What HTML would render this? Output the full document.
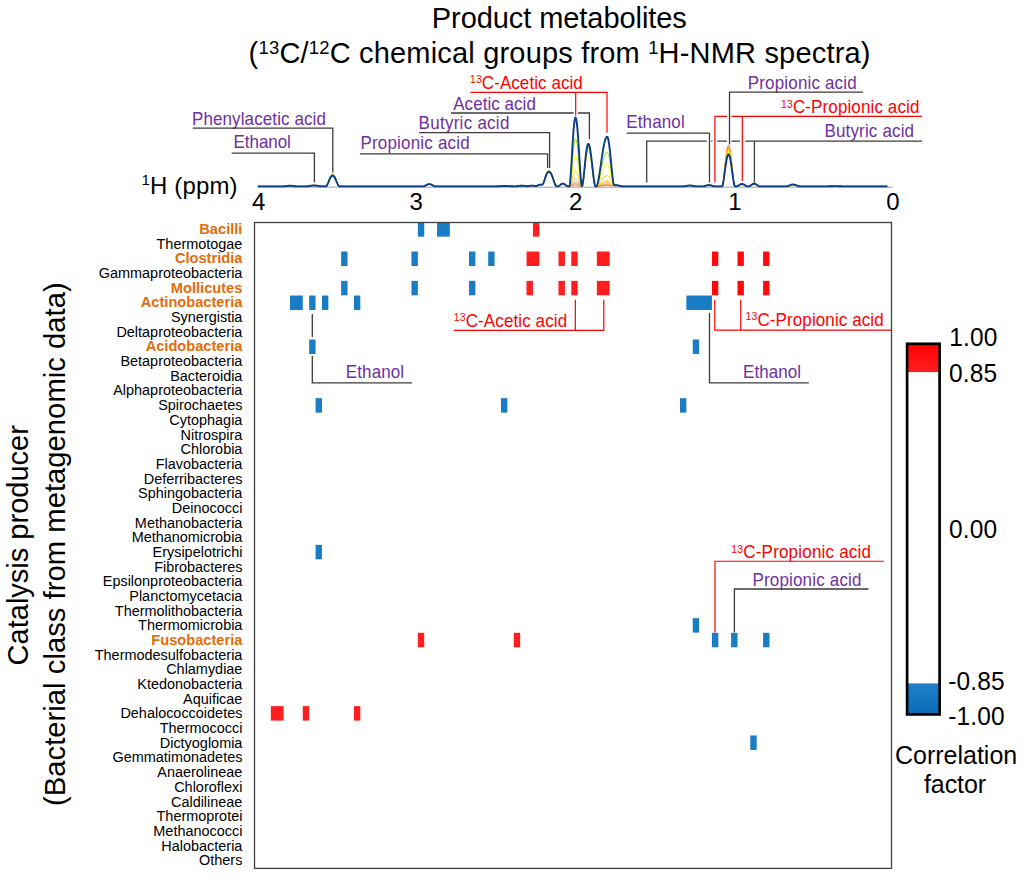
<!DOCTYPE html>
<html><head><meta charset="utf-8"><title>Product metabolites heatmap</title>
<style>html,body{margin:0;padding:0;background:#fff;width:1024px;height:885px;overflow:hidden;font-family:"Liberation Sans", sans-serif;}svg{display:block;}</style>
</head><body>
<svg width="1024" height="885" viewBox="0 0 1024 885" font-family='"Liberation Sans", sans-serif'><rect width="1024" height="885" fill="#fff"/><rect x="417.85" y="222.20" width="6.39" height="14.45" fill="#1a7cc4"/><rect x="437.03" y="222.20" width="12.79" height="14.45" fill="#1a7cc4"/><rect x="532.93" y="222.20" width="6.39" height="14.45" fill="#ff1e1e"/><rect x="341.14" y="251.53" width="6.39" height="14.45" fill="#1a7cc4"/><rect x="411.46" y="251.53" width="6.39" height="14.45" fill="#1a7cc4"/><rect x="469.00" y="251.53" width="6.39" height="14.45" fill="#1a7cc4"/><rect x="488.18" y="251.53" width="6.39" height="14.45" fill="#1a7cc4"/><rect x="526.54" y="251.53" width="12.79" height="14.45" fill="#ff1e1e"/><rect x="558.50" y="251.53" width="6.39" height="14.45" fill="#ff1e1e"/><rect x="571.29" y="251.53" width="6.39" height="14.45" fill="#ff1e1e"/><rect x="596.86" y="251.53" width="12.79" height="14.45" fill="#ff1e1e"/><rect x="711.93" y="251.53" width="6.39" height="14.45" fill="#ff0a0a"/><rect x="737.50" y="251.53" width="6.39" height="14.45" fill="#ff0a0a"/><rect x="763.08" y="251.53" width="6.39" height="14.45" fill="#ff0a0a"/><rect x="341.14" y="280.86" width="6.39" height="14.45" fill="#1a7cc4"/><rect x="411.46" y="280.86" width="6.39" height="14.45" fill="#1a7cc4"/><rect x="469.00" y="280.86" width="6.39" height="14.45" fill="#1a7cc4"/><rect x="526.54" y="280.86" width="6.39" height="14.45" fill="#ff1e1e"/><rect x="558.50" y="280.86" width="6.39" height="14.45" fill="#ff1e1e"/><rect x="571.29" y="280.86" width="6.39" height="14.45" fill="#ff1e1e"/><rect x="596.86" y="280.86" width="12.79" height="14.45" fill="#ff1e1e"/><rect x="711.93" y="280.86" width="6.39" height="14.45" fill="#ff0a0a"/><rect x="737.50" y="280.86" width="6.39" height="14.45" fill="#ff0a0a"/><rect x="763.08" y="280.86" width="6.39" height="14.45" fill="#ff0a0a"/><rect x="289.99" y="295.52" width="12.79" height="14.45" fill="#1a7cc4"/><rect x="309.17" y="295.52" width="6.39" height="14.45" fill="#1a7cc4"/><rect x="321.96" y="295.52" width="6.39" height="14.45" fill="#1a7cc4"/><rect x="353.92" y="295.52" width="6.39" height="14.45" fill="#1a7cc4"/><rect x="686.36" y="295.52" width="25.57" height="14.45" fill="#1a7cc4"/><rect x="309.17" y="339.52" width="6.39" height="14.45" fill="#1a7cc4"/><rect x="692.75" y="339.52" width="6.39" height="14.45" fill="#1a7cc4"/><rect x="315.57" y="398.18" width="6.39" height="14.45" fill="#1a7cc4"/><rect x="500.96" y="398.18" width="6.39" height="14.45" fill="#1a7cc4"/><rect x="679.97" y="398.18" width="6.39" height="14.45" fill="#1a7cc4"/><rect x="315.57" y="544.83" width="6.39" height="14.45" fill="#1a7cc4"/><rect x="692.75" y="618.15" width="6.39" height="14.45" fill="#1a7cc4"/><rect x="417.85" y="632.82" width="6.39" height="14.45" fill="#ff1e1e"/><rect x="513.75" y="632.82" width="6.39" height="14.45" fill="#ff1e1e"/><rect x="711.93" y="632.82" width="6.39" height="14.45" fill="#1a7cc4"/><rect x="731.11" y="632.82" width="6.39" height="14.45" fill="#1a7cc4"/><rect x="763.08" y="632.82" width="6.39" height="14.45" fill="#1a7cc4"/><rect x="270.82" y="706.14" width="12.79" height="14.45" fill="#ff1e1e"/><rect x="302.78" y="706.14" width="6.39" height="14.45" fill="#ff1e1e"/><rect x="353.92" y="706.14" width="6.39" height="14.45" fill="#ff1e1e"/><rect x="750.29" y="735.48" width="6.39" height="14.45" fill="#1a7cc4"/><rect x="254.5" y="222.5" width="637.00" height="645.90" fill="none" stroke="#404040" stroke-width="1.3"/><text transform="translate(242.4,234.00) scale(1,1.06)" text-anchor="end" font-size="14.65" font-weight="bold" fill="#e46c0a">Bacilli</text><text transform="translate(242.4,248.68) scale(1,1.06)" text-anchor="end" font-size="14.45" fill="#000">Thermotogae</text><text transform="translate(242.4,263.36) scale(1,1.06)" text-anchor="end" font-size="14.65" font-weight="bold" fill="#e46c0a">Clostridia</text><text transform="translate(242.4,278.04) scale(1,1.06)" text-anchor="end" font-size="14.45" fill="#000">Gammaproteobacteria</text><text transform="translate(242.4,292.72) scale(1,1.06)" text-anchor="end" font-size="14.65" font-weight="bold" fill="#e46c0a">Mollicutes</text><text transform="translate(242.4,307.40) scale(1,1.06)" text-anchor="end" font-size="14.65" font-weight="bold" fill="#e46c0a">Actinobacteria</text><text transform="translate(242.4,322.08) scale(1,1.06)" text-anchor="end" font-size="14.45" fill="#000">Synergistia</text><text transform="translate(242.4,336.76) scale(1,1.06)" text-anchor="end" font-size="14.45" fill="#000">Deltaproteobacteria</text><text transform="translate(242.4,351.44) scale(1,1.06)" text-anchor="end" font-size="14.65" font-weight="bold" fill="#e46c0a">Acidobacteria</text><text transform="translate(242.4,366.12) scale(1,1.06)" text-anchor="end" font-size="14.45" fill="#000">Betaproteobacteria</text><text transform="translate(242.4,380.80) scale(1,1.06)" text-anchor="end" font-size="14.45" fill="#000">Bacteroidia</text><text transform="translate(242.4,395.48) scale(1,1.06)" text-anchor="end" font-size="14.45" fill="#000">Alphaproteobacteria</text><text transform="translate(242.4,410.16) scale(1,1.06)" text-anchor="end" font-size="14.45" fill="#000">Spirochaetes</text><text transform="translate(242.4,424.84) scale(1,1.06)" text-anchor="end" font-size="14.45" fill="#000">Cytophagia</text><text transform="translate(242.4,439.52) scale(1,1.06)" text-anchor="end" font-size="14.45" fill="#000">Nitrospira</text><text transform="translate(242.4,454.20) scale(1,1.06)" text-anchor="end" font-size="14.45" fill="#000">Chlorobia</text><text transform="translate(242.4,468.88) scale(1,1.06)" text-anchor="end" font-size="14.45" fill="#000">Flavobacteria</text><text transform="translate(242.4,483.56) scale(1,1.06)" text-anchor="end" font-size="14.45" fill="#000">Deferribacteres</text><text transform="translate(242.4,498.24) scale(1,1.06)" text-anchor="end" font-size="14.45" fill="#000">Sphingobacteria</text><text transform="translate(242.4,512.92) scale(1,1.06)" text-anchor="end" font-size="14.45" fill="#000">Deinococci</text><text transform="translate(242.4,527.60) scale(1,1.06)" text-anchor="end" font-size="14.45" fill="#000">Methanobacteria</text><text transform="translate(242.4,542.28) scale(1,1.06)" text-anchor="end" font-size="14.45" fill="#000">Methanomicrobia</text><text transform="translate(242.4,556.96) scale(1,1.06)" text-anchor="end" font-size="14.45" fill="#000">Erysipelotrichi</text><text transform="translate(242.4,571.64) scale(1,1.06)" text-anchor="end" font-size="14.45" fill="#000">Fibrobacteres</text><text transform="translate(242.4,586.32) scale(1,1.06)" text-anchor="end" font-size="14.45" fill="#000">Epsilonproteobacteria</text><text transform="translate(242.4,601.00) scale(1,1.06)" text-anchor="end" font-size="14.45" fill="#000">Planctomycetacia</text><text transform="translate(242.4,615.68) scale(1,1.06)" text-anchor="end" font-size="14.45" fill="#000">Thermolithobacteria</text><text transform="translate(242.4,630.36) scale(1,1.06)" text-anchor="end" font-size="14.45" fill="#000">Thermomicrobia</text><text transform="translate(242.4,645.04) scale(1,1.06)" text-anchor="end" font-size="14.65" font-weight="bold" fill="#e46c0a">Fusobacteria</text><text transform="translate(242.4,659.72) scale(1,1.06)" text-anchor="end" font-size="14.45" fill="#000">Thermodesulfobacteria</text><text transform="translate(242.4,674.40) scale(1,1.06)" text-anchor="end" font-size="14.45" fill="#000">Chlamydiae</text><text transform="translate(242.4,689.08) scale(1,1.06)" text-anchor="end" font-size="14.45" fill="#000">Ktedonobacteria</text><text transform="translate(242.4,703.76) scale(1,1.06)" text-anchor="end" font-size="14.45" fill="#000">Aquificae</text><text transform="translate(242.4,718.44) scale(1,1.06)" text-anchor="end" font-size="14.45" fill="#000">Dehalococcoidetes</text><text transform="translate(242.4,733.12) scale(1,1.06)" text-anchor="end" font-size="14.45" fill="#000">Thermococci</text><text transform="translate(242.4,747.80) scale(1,1.06)" text-anchor="end" font-size="14.45" fill="#000">Dictyoglomia</text><text transform="translate(242.4,762.48) scale(1,1.06)" text-anchor="end" font-size="14.45" fill="#000">Gemmatimonadetes</text><text transform="translate(242.4,777.16) scale(1,1.06)" text-anchor="end" font-size="14.45" fill="#000">Anaerolineae</text><text transform="translate(242.4,791.84) scale(1,1.06)" text-anchor="end" font-size="14.45" fill="#000">Chloroflexi</text><text transform="translate(242.4,806.52) scale(1,1.06)" text-anchor="end" font-size="14.45" fill="#000">Caldilineae</text><text transform="translate(242.4,821.20) scale(1,1.06)" text-anchor="end" font-size="14.45" fill="#000">Thermoprotei</text><text transform="translate(242.4,835.88) scale(1,1.06)" text-anchor="end" font-size="14.45" fill="#000">Methanococci</text><text transform="translate(242.4,850.56) scale(1,1.06)" text-anchor="end" font-size="14.45" fill="#000">Halobacteria</text><text transform="translate(242.4,865.24) scale(1,1.06)" text-anchor="end" font-size="14.45" fill="#000">Others</text><line x1="258" y1="187.2" x2="892.8" y2="187.2" stroke="#c0c0c0" stroke-width="1.5"/><path d="M257.9,186.4 L283.4,186.4 L283.9,186.4 L284.4,186.3 L284.9,186.2 L285.4,186.2 L285.9,186.1 L286.4,186.0 L286.9,186.0 L287.4,185.9 L287.9,185.8 L288.4,185.8 L288.9,185.7 L289.4,185.7 L289.9,185.7 L290.4,185.7 L290.9,185.7 L291.4,185.8 L291.9,185.8 L292.4,185.9 L292.9,185.9 L293.4,186.0 L293.9,186.1 L294.4,186.1 L294.9,186.2 L295.4,186.3 L295.9,186.3 L296.4,186.4 L296.9,186.4 L306.4,186.4 L306.9,186.4 L307.4,186.3 L307.9,186.2 L308.4,186.1 L308.9,186.0 L309.4,185.9 L309.9,185.8 L310.4,185.7 L310.9,185.7 L311.4,185.6 L311.9,185.5 L312.4,185.5 L312.9,185.4 L313.4,185.4 L313.9,185.4 L314.4,185.4 L314.9,185.4 L315.4,185.4 L315.9,185.5 L316.4,185.6 L316.9,185.6 L317.4,185.7 L317.9,185.8 L318.4,185.9 L318.9,186.0 L319.4,186.1 L319.9,186.2 L320.4,186.3 L320.9,186.3 L321.4,186.4 L321.9,186.4 L325.4,186.4 L325.9,186.4 L326.4,186.0 L326.9,185.3 L327.4,184.3 L327.9,183.0 L328.4,181.7 L328.9,180.3 L329.4,178.9 L329.9,177.7 L330.4,176.5 L330.9,175.6 L331.4,174.8 L331.9,174.3 L332.4,174.1 L332.9,174.1 L333.4,174.4 L333.9,175.0 L334.4,175.8 L334.9,176.7 L335.4,177.9 L335.9,179.2 L336.4,180.6 L336.9,182.0 L337.4,183.3 L337.9,184.5 L338.4,185.5 L338.9,186.2 L339.4,186.4 L423.4,186.4 L423.9,186.3 L424.4,186.2 L424.9,185.9 L425.4,185.7 L425.9,185.4 L426.4,185.1 L426.9,184.8 L427.4,184.6 L427.9,184.4 L428.4,184.3 L428.9,184.2 L429.4,184.2 L429.9,184.2 L430.4,184.3 L430.9,184.5 L431.4,184.7 L431.9,184.9 L432.4,185.2 L432.9,185.5 L433.4,185.8 L433.9,186.0 L434.4,186.2 L434.9,186.4 L435.4,186.4 L495.4,186.4 L495.9,186.4 L496.4,186.4 L496.9,186.4 L497.4,186.3 L497.9,186.3 L498.4,186.3 L498.9,186.2 L499.4,186.2 L499.9,186.2 L500.4,186.2 L500.9,186.1 L501.4,186.1 L501.9,186.1 L502.4,186.1 L502.9,186.0 L503.4,186.0 L503.9,186.0 L504.4,186.0 L504.9,186.0 L505.4,186.0 L505.9,186.0 L506.4,186.0 L506.9,186.0 L507.4,186.1 L507.9,186.1 L508.4,186.1 L508.9,186.1 L509.4,186.1 L509.9,186.2 L510.4,186.2 L510.9,186.2 L511.4,186.3 L511.9,186.3 L512.4,186.3 L512.9,186.3 L513.4,186.4 L513.9,186.4 L514.4,186.4 L515.4,186.4 L515.9,186.4 L516.4,186.3 L516.9,186.3 L517.4,186.2 L517.9,186.1 L518.4,186.0 L518.9,186.0 L519.4,185.9 L519.9,185.8 L520.4,185.8 L520.9,185.8 L521.4,185.7 L521.9,185.7 L522.4,185.7 L522.9,185.7 L523.4,185.8 L523.9,185.8 L524.4,185.9 L524.9,185.9 L525.4,186.0 L525.9,186.1 L526.4,186.1 L526.9,186.2 L527.4,186.2 L527.9,186.1 L528.4,186.1 L528.9,186.0 L529.4,185.9 L529.9,185.8 L530.4,185.7 L530.9,185.7 L531.4,185.6 L531.9,185.6 L532.4,185.6 L532.9,185.7 L533.4,185.7 L533.9,185.8 L534.4,185.9 L534.9,185.9 L535.4,186.0 L535.9,186.1 L536.4,186.0 L536.9,185.9 L537.4,185.7 L537.9,185.5 L538.4,185.2 L538.9,185.0 L539.4,184.8 L539.9,184.7 L540.4,184.7 L540.9,184.7 L541.4,184.7 L541.9,184.6 L542.4,184.5 L542.9,184.0 L543.4,183.0 L543.9,181.7 L544.4,180.2 L544.9,178.6 L545.4,176.9 L545.9,175.3 L546.4,173.8 L546.9,172.6 L547.4,171.7 L547.9,171.1 L548.4,170.7 L548.9,170.7 L549.4,170.8 L549.9,171.2 L550.4,171.6 L550.9,172.4 L551.4,173.4 L551.9,174.6 L552.4,176.0 L552.9,177.6 L553.4,179.2 L553.9,180.8 L554.4,182.4 L554.9,183.8 L555.4,185.0 L555.9,185.9 L556.4,186.4 L556.9,186.4 L557.9,186.4 L558.4,186.3 L558.9,186.0 L559.4,185.7 L559.9,185.3 L560.4,184.9 L560.9,184.5 L561.4,184.2 L561.9,183.9 L562.4,183.7 L562.9,183.7 L563.4,183.7 L563.9,183.9 L564.4,184.2 L564.9,184.5 L565.4,184.9 L565.9,185.3 L566.4,185.7 L566.9,186.0 L567.4,186.3 L567.9,186.4 L569.4,186.4 L569.9,186.4 L570.4,186.3 L570.9,186.1 L571.4,186.0 L571.9,185.8 L572.4,185.6 L572.9,185.5 L573.4,185.3 L573.9,185.2 L574.4,185.1 L574.9,185.0 L575.4,185.0 L575.9,185.0 L576.4,185.1 L576.9,185.1 L577.4,185.2 L577.9,185.4 L578.4,185.5 L578.9,185.7 L579.4,185.8 L579.9,186.0 L580.4,186.1 L580.9,186.3 L581.4,186.4 L581.9,186.4 L582.4,185.5 L582.9,183.2 L583.4,179.8 L583.9,175.7 L584.4,171.2 L584.9,166.6 L585.4,162.1 L585.9,158.0 L586.4,154.4 L586.9,151.6 L587.4,149.5 L587.9,148.3 L588.4,148.0 L588.9,148.5 L589.4,149.7 L589.9,151.7 L590.4,154.2 L590.9,157.3 L591.4,160.9 L591.9,164.8 L592.4,168.9 L592.9,172.9 L593.4,176.9 L593.9,180.4 L594.4,183.3 L594.9,185.4 L595.4,186.4 L595.9,186.4 L596.4,186.4 L596.9,186.4 L597.4,186.4 L597.9,186.3 L598.4,186.3 L598.9,186.2 L599.4,186.2 L599.9,186.1 L600.4,186.0 L600.9,186.0 L601.4,185.9 L601.9,185.8 L602.4,185.7 L602.9,185.7 L603.4,185.6 L603.9,185.6 L604.4,185.5 L604.9,185.5 L605.4,185.5 L605.9,185.4 L606.4,185.4 L606.9,185.4 L607.4,185.4 L607.9,185.4 L608.4,185.5 L608.9,185.5 L609.4,185.6 L609.9,185.7 L610.4,185.8 L610.9,185.8 L611.4,185.8 L611.9,185.8 L612.4,185.7 L612.9,185.7 L613.4,185.6 L613.9,185.5 L614.4,185.4 L614.9,185.3 L615.4,185.3 L615.9,185.2 L616.4,185.2 L616.9,185.3 L617.4,185.3 L617.9,185.4 L618.4,185.5 L618.9,185.6 L619.4,185.7 L619.9,185.8 L620.4,186.0 L620.9,186.1 L621.4,186.2 L621.9,186.3 L622.4,186.4 L622.9,186.4 L683.9,186.4 L684.4,186.4 L684.9,186.3 L685.4,186.3 L685.9,186.2 L686.4,186.0 L686.9,185.9 L687.4,185.8 L687.9,185.7 L688.4,185.6 L688.9,185.6 L689.4,185.5 L689.9,185.5 L690.4,185.5 L690.9,185.6 L691.4,185.6 L691.9,185.7 L692.4,185.8 L692.9,185.9 L693.4,186.0 L693.9,186.1 L694.4,186.2 L694.9,186.3 L695.4,186.4 L695.9,186.4 L702.9,186.4 L703.4,186.4 L703.9,186.3 L704.4,186.2 L704.9,186.0 L705.4,185.9 L705.9,185.7 L706.4,185.6 L706.9,185.4 L707.4,185.3 L707.9,185.2 L708.4,185.2 L708.9,185.1 L709.4,185.2 L709.9,185.2 L710.4,185.3 L710.9,185.4 L711.4,185.5 L711.9,185.7 L712.4,185.8 L712.9,186.0 L713.4,186.1 L713.9,186.3 L714.4,186.4 L714.9,186.4 L721.9,186.4 L722.4,185.8 L722.9,183.7 L723.4,180.3 L723.9,176.2 L724.4,171.5 L724.9,166.7 L725.4,162.0 L725.9,157.5 L726.4,153.5 L726.9,150.3 L727.4,147.8 L727.9,146.1 L728.4,145.5 L728.9,145.7 L729.4,147.0 L729.9,149.2 L730.4,152.1 L730.9,155.8 L731.4,160.1 L731.9,164.8 L732.4,169.6 L732.9,174.4 L733.4,178.8 L733.9,182.5 L734.4,185.1 L734.9,186.4 L735.4,186.4 L736.4,186.4 L736.9,186.4 L737.4,186.2 L737.9,185.9 L738.4,185.6 L738.9,185.3 L739.4,185.0 L739.9,184.7 L740.4,184.4 L740.9,184.3 L741.4,184.1 L741.9,184.1 L742.4,184.1 L742.9,184.2 L743.4,184.4 L743.9,184.6 L744.4,184.9 L744.9,185.2 L745.4,185.5 L745.9,185.8 L746.4,186.1 L746.9,186.3 L747.4,186.4 L748.4,186.4 L748.9,186.4 L749.4,186.3 L749.9,186.0 L750.4,185.7 L750.9,185.3 L751.4,185.0 L751.9,184.6 L752.4,184.3 L752.9,184.1 L753.4,183.9 L753.9,183.8 L754.4,183.8 L754.9,183.9 L755.4,184.0 L755.9,184.3 L756.4,184.6 L756.9,184.9 L757.4,185.3 L757.9,185.6 L758.4,185.9 L758.9,186.2 L759.4,186.4 L759.9,186.4 L786.4,186.4 L786.9,186.4 L787.4,186.3 L787.9,186.1 L788.4,185.9 L788.9,185.7 L789.4,185.5 L789.9,185.3 L790.4,185.1 L790.9,184.9 L791.4,184.8 L791.9,184.7 L792.4,184.6 L792.9,184.6 L793.4,184.6 L793.9,184.6 L794.4,184.7 L794.9,184.9 L795.4,185.0 L795.9,185.2 L796.4,185.4 L796.9,185.6 L797.4,185.9 L797.9,186.1 L798.4,186.2 L798.9,186.3 L799.4,186.4 L826.4,186.4 L826.9,186.4 L827.4,186.4 L827.9,186.4 L828.4,186.3 L828.9,186.3 L829.4,186.3 L829.9,186.3 L830.4,186.2 L830.9,186.2 L831.4,186.2 L831.9,186.2 L832.4,186.2 L832.9,186.1 L833.4,186.1 L833.9,186.1 L834.4,186.1 L834.9,186.1 L835.4,186.1 L835.9,186.1 L836.4,186.1 L836.9,186.1 L837.4,186.1 L837.9,186.2 L838.4,186.2 L838.9,186.2 L839.4,186.2 L839.9,186.3 L840.4,186.3 L840.9,186.3 L841.4,186.3 L841.9,186.4 L842.4,186.4 L842.9,186.4 L843.4,186.4 L887.4,186.4" fill="none" stroke="#ff5a10" stroke-width="1.0"/><path d="M257.9,186.4 L283.4,186.4 L283.9,186.4 L284.4,186.3 L284.9,186.2 L285.4,186.2 L285.9,186.1 L286.4,186.0 L286.9,186.0 L287.4,185.9 L287.9,185.8 L288.4,185.8 L288.9,185.7 L289.4,185.7 L289.9,185.7 L290.4,185.7 L290.9,185.7 L291.4,185.8 L291.9,185.8 L292.4,185.9 L292.9,185.9 L293.4,186.0 L293.9,186.1 L294.4,186.1 L294.9,186.2 L295.4,186.3 L295.9,186.3 L296.4,186.4 L296.9,186.4 L306.4,186.4 L306.9,186.4 L307.4,186.3 L307.9,186.2 L308.4,186.1 L308.9,186.0 L309.4,185.9 L309.9,185.8 L310.4,185.7 L310.9,185.7 L311.4,185.6 L311.9,185.5 L312.4,185.5 L312.9,185.4 L313.4,185.4 L313.9,185.4 L314.4,185.4 L314.9,185.4 L315.4,185.4 L315.9,185.5 L316.4,185.6 L316.9,185.6 L317.4,185.7 L317.9,185.8 L318.4,185.9 L318.9,186.0 L319.4,186.1 L319.9,186.2 L320.4,186.3 L320.9,186.3 L321.4,186.4 L321.9,186.4 L325.4,186.4 L325.9,186.4 L326.4,186.0 L326.9,185.3 L327.4,184.3 L327.9,183.0 L328.4,181.7 L328.9,180.3 L329.4,178.9 L329.9,177.7 L330.4,176.5 L330.9,175.6 L331.4,174.8 L331.9,174.3 L332.4,174.1 L332.9,174.1 L333.4,174.4 L333.9,175.0 L334.4,175.8 L334.9,176.7 L335.4,177.9 L335.9,179.2 L336.4,180.6 L336.9,182.0 L337.4,183.3 L337.9,184.5 L338.4,185.5 L338.9,186.2 L339.4,186.4 L423.4,186.4 L423.9,186.3 L424.4,186.2 L424.9,185.9 L425.4,185.7 L425.9,185.4 L426.4,185.1 L426.9,184.8 L427.4,184.6 L427.9,184.4 L428.4,184.3 L428.9,184.2 L429.4,184.2 L429.9,184.2 L430.4,184.3 L430.9,184.5 L431.4,184.7 L431.9,184.9 L432.4,185.2 L432.9,185.5 L433.4,185.8 L433.9,186.0 L434.4,186.2 L434.9,186.4 L435.4,186.4 L495.4,186.4 L495.9,186.4 L496.4,186.4 L496.9,186.4 L497.4,186.3 L497.9,186.3 L498.4,186.3 L498.9,186.2 L499.4,186.2 L499.9,186.2 L500.4,186.2 L500.9,186.1 L501.4,186.1 L501.9,186.1 L502.4,186.1 L502.9,186.0 L503.4,186.0 L503.9,186.0 L504.4,186.0 L504.9,186.0 L505.4,186.0 L505.9,186.0 L506.4,186.0 L506.9,186.0 L507.4,186.1 L507.9,186.1 L508.4,186.1 L508.9,186.1 L509.4,186.1 L509.9,186.2 L510.4,186.2 L510.9,186.2 L511.4,186.3 L511.9,186.3 L512.4,186.3 L512.9,186.3 L513.4,186.4 L513.9,186.4 L514.4,186.4 L515.4,186.4 L515.9,186.4 L516.4,186.3 L516.9,186.3 L517.4,186.2 L517.9,186.1 L518.4,186.0 L518.9,186.0 L519.4,185.9 L519.9,185.8 L520.4,185.8 L520.9,185.8 L521.4,185.7 L521.9,185.7 L522.4,185.7 L522.9,185.7 L523.4,185.8 L523.9,185.8 L524.4,185.9 L524.9,185.9 L525.4,186.0 L525.9,186.1 L526.4,186.1 L526.9,186.2 L527.4,186.2 L527.9,186.1 L528.4,186.1 L528.9,186.0 L529.4,185.9 L529.9,185.8 L530.4,185.7 L530.9,185.7 L531.4,185.6 L531.9,185.6 L532.4,185.6 L532.9,185.7 L533.4,185.7 L533.9,185.8 L534.4,185.9 L534.9,185.9 L535.4,186.0 L535.9,186.1 L536.4,186.0 L536.9,185.9 L537.4,185.7 L537.9,185.5 L538.4,185.2 L538.9,185.0 L539.4,184.8 L539.9,184.7 L540.4,184.7 L540.9,184.7 L541.4,184.7 L541.9,184.6 L542.4,184.5 L542.9,184.0 L543.4,183.0 L543.9,181.7 L544.4,180.2 L544.9,178.6 L545.4,176.9 L545.9,175.3 L546.4,173.8 L546.9,172.6 L547.4,171.7 L547.9,171.1 L548.4,170.7 L548.9,170.7 L549.4,170.8 L549.9,171.2 L550.4,171.6 L550.9,172.4 L551.4,173.4 L551.9,174.6 L552.4,176.0 L552.9,177.6 L553.4,179.2 L553.9,180.8 L554.4,182.4 L554.9,183.8 L555.4,185.0 L555.9,185.9 L556.4,186.4 L556.9,186.4 L557.9,186.4 L558.4,186.3 L558.9,186.0 L559.4,185.7 L559.9,185.3 L560.4,184.9 L560.9,184.5 L561.4,184.2 L561.9,183.9 L562.4,183.7 L562.9,183.7 L563.4,183.7 L563.9,183.9 L564.4,184.2 L564.9,184.5 L565.4,184.9 L565.9,185.3 L566.4,185.7 L566.9,186.0 L567.4,186.3 L567.9,186.4 L569.4,186.4 L569.9,186.3 L570.4,186.1 L570.9,185.8 L571.4,185.5 L571.9,185.2 L572.4,184.8 L572.9,184.5 L573.4,184.2 L573.9,183.9 L574.4,183.7 L574.9,183.6 L575.4,183.6 L575.9,183.6 L576.4,183.7 L576.9,183.8 L577.4,184.0 L577.9,184.3 L578.4,184.6 L578.9,184.9 L579.4,185.2 L579.9,185.6 L580.4,185.9 L580.9,186.1 L581.4,186.3 L581.9,186.4 L582.4,185.5 L582.9,183.2 L583.4,179.8 L583.9,175.7 L584.4,171.2 L584.9,166.6 L585.4,162.1 L585.9,158.0 L586.4,154.4 L586.9,151.6 L587.4,149.5 L587.9,148.3 L588.4,148.0 L588.9,148.5 L589.4,149.7 L589.9,151.7 L590.4,154.2 L590.9,157.3 L591.4,160.9 L591.9,164.8 L592.4,168.9 L592.9,172.9 L593.4,176.9 L593.9,180.4 L594.4,183.3 L594.9,185.4 L595.4,186.4 L595.9,186.4 L596.4,186.4 L596.9,186.4 L597.4,186.3 L597.9,186.2 L598.4,186.1 L598.9,186.0 L599.4,185.9 L599.9,185.8 L600.4,185.6 L600.9,185.5 L601.4,185.3 L601.9,185.2 L602.4,185.1 L602.9,184.9 L603.4,184.8 L603.9,184.7 L604.4,184.6 L604.9,184.5 L605.4,184.5 L605.9,184.4 L606.4,184.4 L606.9,184.4 L607.4,184.4 L607.9,184.4 L608.4,184.5 L608.9,184.6 L609.4,184.8 L609.9,184.9 L610.4,185.1 L610.9,185.3 L611.4,185.4 L611.9,185.4 L612.4,185.5 L612.9,185.5 L613.4,185.5 L613.9,185.5 L614.4,185.4 L614.9,185.3 L615.4,185.3 L615.9,185.2 L616.4,185.2 L616.9,185.3 L617.4,185.3 L617.9,185.4 L618.4,185.5 L618.9,185.6 L619.4,185.7 L619.9,185.8 L620.4,186.0 L620.9,186.1 L621.4,186.2 L621.9,186.3 L622.4,186.4 L622.9,186.4 L683.9,186.4 L684.4,186.4 L684.9,186.3 L685.4,186.3 L685.9,186.2 L686.4,186.0 L686.9,185.9 L687.4,185.8 L687.9,185.7 L688.4,185.6 L688.9,185.6 L689.4,185.5 L689.9,185.5 L690.4,185.5 L690.9,185.6 L691.4,185.6 L691.9,185.7 L692.4,185.8 L692.9,185.9 L693.4,186.0 L693.9,186.1 L694.4,186.2 L694.9,186.3 L695.4,186.4 L695.9,186.4 L702.9,186.4 L703.4,186.4 L703.9,186.3 L704.4,186.2 L704.9,186.0 L705.4,185.9 L705.9,185.7 L706.4,185.6 L706.9,185.4 L707.4,185.3 L707.9,185.2 L708.4,185.2 L708.9,185.1 L709.4,185.2 L709.9,185.2 L710.4,185.3 L710.9,185.4 L711.4,185.5 L711.9,185.7 L712.4,185.8 L712.9,186.0 L713.4,186.1 L713.9,186.3 L714.4,186.4 L714.9,186.4 L721.9,186.4 L722.4,185.8 L722.9,183.8 L723.4,180.5 L723.9,176.5 L724.4,172.0 L724.9,167.3 L725.4,162.7 L725.9,158.4 L726.4,154.6 L726.9,151.4 L727.4,149.0 L727.9,147.4 L728.4,146.7 L728.9,147.0 L729.4,148.2 L729.9,150.3 L730.4,153.2 L730.9,156.8 L731.4,160.9 L731.9,165.5 L732.4,170.1 L732.9,174.8 L733.4,179.0 L733.9,182.6 L734.4,185.2 L734.9,186.4 L735.4,186.4 L736.4,186.4 L736.9,186.4 L737.4,186.2 L737.9,185.9 L738.4,185.6 L738.9,185.3 L739.4,185.0 L739.9,184.7 L740.4,184.4 L740.9,184.3 L741.4,184.1 L741.9,184.1 L742.4,184.1 L742.9,184.2 L743.4,184.4 L743.9,184.6 L744.4,184.9 L744.9,185.2 L745.4,185.5 L745.9,185.8 L746.4,186.1 L746.9,186.3 L747.4,186.4 L748.4,186.4 L748.9,186.4 L749.4,186.3 L749.9,186.0 L750.4,185.7 L750.9,185.3 L751.4,185.0 L751.9,184.6 L752.4,184.3 L752.9,184.1 L753.4,183.9 L753.9,183.8 L754.4,183.8 L754.9,183.9 L755.4,184.0 L755.9,184.3 L756.4,184.6 L756.9,184.9 L757.4,185.3 L757.9,185.6 L758.4,185.9 L758.9,186.2 L759.4,186.4 L759.9,186.4 L786.4,186.4 L786.9,186.4 L787.4,186.3 L787.9,186.1 L788.4,185.9 L788.9,185.7 L789.4,185.5 L789.9,185.3 L790.4,185.1 L790.9,184.9 L791.4,184.8 L791.9,184.7 L792.4,184.6 L792.9,184.6 L793.4,184.6 L793.9,184.6 L794.4,184.7 L794.9,184.9 L795.4,185.0 L795.9,185.2 L796.4,185.4 L796.9,185.6 L797.4,185.9 L797.9,186.1 L798.4,186.2 L798.9,186.3 L799.4,186.4 L826.4,186.4 L826.9,186.4 L827.4,186.4 L827.9,186.4 L828.4,186.3 L828.9,186.3 L829.4,186.3 L829.9,186.3 L830.4,186.2 L830.9,186.2 L831.4,186.2 L831.9,186.2 L832.4,186.2 L832.9,186.1 L833.4,186.1 L833.9,186.1 L834.4,186.1 L834.9,186.1 L835.4,186.1 L835.9,186.1 L836.4,186.1 L836.9,186.1 L837.4,186.1 L837.9,186.2 L838.4,186.2 L838.9,186.2 L839.4,186.2 L839.9,186.3 L840.4,186.3 L840.9,186.3 L841.4,186.3 L841.9,186.4 L842.4,186.4 L842.9,186.4 L843.4,186.4 L887.4,186.4" fill="none" stroke="#ff8020" stroke-width="1.0"/><path d="M257.9,186.4 L283.4,186.4 L283.9,186.4 L284.4,186.3 L284.9,186.2 L285.4,186.2 L285.9,186.1 L286.4,186.0 L286.9,186.0 L287.4,185.9 L287.9,185.8 L288.4,185.8 L288.9,185.7 L289.4,185.7 L289.9,185.7 L290.4,185.7 L290.9,185.7 L291.4,185.8 L291.9,185.8 L292.4,185.9 L292.9,185.9 L293.4,186.0 L293.9,186.1 L294.4,186.1 L294.9,186.2 L295.4,186.3 L295.9,186.3 L296.4,186.4 L296.9,186.4 L306.4,186.4 L306.9,186.4 L307.4,186.3 L307.9,186.2 L308.4,186.1 L308.9,186.0 L309.4,185.9 L309.9,185.8 L310.4,185.7 L310.9,185.7 L311.4,185.6 L311.9,185.5 L312.4,185.5 L312.9,185.4 L313.4,185.4 L313.9,185.4 L314.4,185.4 L314.9,185.4 L315.4,185.4 L315.9,185.5 L316.4,185.6 L316.9,185.6 L317.4,185.7 L317.9,185.8 L318.4,185.9 L318.9,186.0 L319.4,186.1 L319.9,186.2 L320.4,186.3 L320.9,186.3 L321.4,186.4 L321.9,186.4 L325.4,186.4 L325.9,186.4 L326.4,186.0 L326.9,185.3 L327.4,184.3 L327.9,183.0 L328.4,181.7 L328.9,180.3 L329.4,178.9 L329.9,177.7 L330.4,176.5 L330.9,175.6 L331.4,174.8 L331.9,174.3 L332.4,174.1 L332.9,174.1 L333.4,174.4 L333.9,175.0 L334.4,175.8 L334.9,176.7 L335.4,177.9 L335.9,179.2 L336.4,180.6 L336.9,182.0 L337.4,183.3 L337.9,184.5 L338.4,185.5 L338.9,186.2 L339.4,186.4 L423.4,186.4 L423.9,186.3 L424.4,186.2 L424.9,185.9 L425.4,185.7 L425.9,185.4 L426.4,185.1 L426.9,184.8 L427.4,184.6 L427.9,184.4 L428.4,184.3 L428.9,184.2 L429.4,184.2 L429.9,184.2 L430.4,184.3 L430.9,184.5 L431.4,184.7 L431.9,184.9 L432.4,185.2 L432.9,185.5 L433.4,185.8 L433.9,186.0 L434.4,186.2 L434.9,186.4 L435.4,186.4 L495.4,186.4 L495.9,186.4 L496.4,186.4 L496.9,186.4 L497.4,186.3 L497.9,186.3 L498.4,186.3 L498.9,186.2 L499.4,186.2 L499.9,186.2 L500.4,186.2 L500.9,186.1 L501.4,186.1 L501.9,186.1 L502.4,186.1 L502.9,186.0 L503.4,186.0 L503.9,186.0 L504.4,186.0 L504.9,186.0 L505.4,186.0 L505.9,186.0 L506.4,186.0 L506.9,186.0 L507.4,186.1 L507.9,186.1 L508.4,186.1 L508.9,186.1 L509.4,186.1 L509.9,186.2 L510.4,186.2 L510.9,186.2 L511.4,186.3 L511.9,186.3 L512.4,186.3 L512.9,186.3 L513.4,186.4 L513.9,186.4 L514.4,186.4 L515.4,186.4 L515.9,186.4 L516.4,186.3 L516.9,186.3 L517.4,186.2 L517.9,186.1 L518.4,186.0 L518.9,186.0 L519.4,185.9 L519.9,185.8 L520.4,185.8 L520.9,185.8 L521.4,185.7 L521.9,185.7 L522.4,185.7 L522.9,185.7 L523.4,185.8 L523.9,185.8 L524.4,185.9 L524.9,185.9 L525.4,186.0 L525.9,186.1 L526.4,186.1 L526.9,186.2 L527.4,186.2 L527.9,186.1 L528.4,186.1 L528.9,186.0 L529.4,185.9 L529.9,185.8 L530.4,185.7 L530.9,185.7 L531.4,185.6 L531.9,185.6 L532.4,185.6 L532.9,185.7 L533.4,185.7 L533.9,185.8 L534.4,185.9 L534.9,185.9 L535.4,186.0 L535.9,186.1 L536.4,186.0 L536.9,185.9 L537.4,185.7 L537.9,185.5 L538.4,185.2 L538.9,185.0 L539.4,184.8 L539.9,184.7 L540.4,184.7 L540.9,184.7 L541.4,184.7 L541.9,184.6 L542.4,184.5 L542.9,184.0 L543.4,183.0 L543.9,181.7 L544.4,180.2 L544.9,178.6 L545.4,176.9 L545.9,175.3 L546.4,173.8 L546.9,172.6 L547.4,171.7 L547.9,171.1 L548.4,170.7 L548.9,170.7 L549.4,170.8 L549.9,171.2 L550.4,171.6 L550.9,172.4 L551.4,173.4 L551.9,174.6 L552.4,176.0 L552.9,177.6 L553.4,179.2 L553.9,180.8 L554.4,182.4 L554.9,183.8 L555.4,185.0 L555.9,185.9 L556.4,186.4 L556.9,186.4 L557.9,186.4 L558.4,186.3 L558.9,186.0 L559.4,185.7 L559.9,185.3 L560.4,184.9 L560.9,184.5 L561.4,184.2 L561.9,183.9 L562.4,183.7 L562.9,183.7 L563.4,183.7 L563.9,183.9 L564.4,184.2 L564.9,184.5 L565.4,184.9 L565.9,185.3 L566.4,185.7 L566.9,186.0 L567.4,186.3 L567.9,186.4 L569.4,186.4 L569.9,186.2 L570.4,185.9 L570.9,185.4 L571.4,184.8 L571.9,184.2 L572.4,183.5 L572.9,182.9 L573.4,182.4 L573.9,182.0 L574.4,181.6 L574.9,181.4 L575.4,181.3 L575.9,181.3 L576.4,181.5 L576.9,181.8 L577.4,182.1 L577.9,182.6 L578.4,183.1 L578.9,183.7 L579.4,184.3 L579.9,184.9 L580.4,185.4 L580.9,185.9 L581.4,186.2 L581.9,186.4 L582.4,185.5 L582.9,183.2 L583.4,179.8 L583.9,175.7 L584.4,171.2 L584.9,166.6 L585.4,162.1 L585.9,158.0 L586.4,154.4 L586.9,151.6 L587.4,149.5 L587.9,148.3 L588.4,148.0 L588.9,148.5 L589.4,149.7 L589.9,151.7 L590.4,154.2 L590.9,157.3 L591.4,160.9 L591.9,164.8 L592.4,168.9 L592.9,172.9 L593.4,176.9 L593.9,180.4 L594.4,183.3 L594.9,185.4 L595.4,186.4 L595.9,186.4 L596.4,186.4 L596.9,186.4 L597.4,186.3 L597.9,186.1 L598.4,185.9 L598.9,185.7 L599.4,185.5 L599.9,185.3 L600.4,185.0 L600.9,184.8 L601.4,184.5 L601.9,184.2 L602.4,184.0 L602.9,183.8 L603.4,183.5 L603.9,183.3 L604.4,183.2 L604.9,183.0 L605.4,182.9 L605.9,182.8 L606.4,182.8 L606.9,182.7 L607.4,182.7 L607.9,182.8 L608.4,183.0 L608.9,183.2 L609.4,183.4 L609.9,183.8 L610.4,184.1 L610.9,184.4 L611.4,184.7 L611.9,184.9 L612.4,185.2 L612.9,185.3 L613.4,185.4 L613.9,185.5 L614.4,185.4 L614.9,185.3 L615.4,185.3 L615.9,185.2 L616.4,185.2 L616.9,185.3 L617.4,185.3 L617.9,185.4 L618.4,185.5 L618.9,185.6 L619.4,185.7 L619.9,185.8 L620.4,186.0 L620.9,186.1 L621.4,186.2 L621.9,186.3 L622.4,186.4 L622.9,186.4 L683.9,186.4 L684.4,186.4 L684.9,186.3 L685.4,186.3 L685.9,186.2 L686.4,186.0 L686.9,185.9 L687.4,185.8 L687.9,185.7 L688.4,185.6 L688.9,185.6 L689.4,185.5 L689.9,185.5 L690.4,185.5 L690.9,185.6 L691.4,185.6 L691.9,185.7 L692.4,185.8 L692.9,185.9 L693.4,186.0 L693.9,186.1 L694.4,186.2 L694.9,186.3 L695.4,186.4 L695.9,186.4 L702.9,186.4 L703.4,186.4 L703.9,186.3 L704.4,186.2 L704.9,186.0 L705.4,185.9 L705.9,185.7 L706.4,185.6 L706.9,185.4 L707.4,185.3 L707.9,185.2 L708.4,185.2 L708.9,185.1 L709.4,185.2 L709.9,185.2 L710.4,185.3 L710.9,185.4 L711.4,185.5 L711.9,185.7 L712.4,185.8 L712.9,186.0 L713.4,186.1 L713.9,186.3 L714.4,186.4 L714.9,186.4 L721.9,186.4 L722.4,185.9 L722.9,183.8 L723.4,180.7 L723.9,176.8 L724.4,172.5 L724.9,167.9 L725.4,163.5 L725.9,159.3 L726.4,155.6 L726.9,152.5 L727.4,150.2 L727.9,148.7 L728.4,148.0 L728.9,148.3 L729.4,149.5 L729.9,151.5 L730.4,154.3 L730.9,157.8 L731.4,161.8 L731.9,166.1 L732.4,170.7 L732.9,175.1 L733.4,179.2 L733.9,182.7 L734.4,185.2 L734.9,186.4 L735.4,186.4 L736.4,186.4 L736.9,186.4 L737.4,186.2 L737.9,185.9 L738.4,185.6 L738.9,185.3 L739.4,185.0 L739.9,184.7 L740.4,184.4 L740.9,184.3 L741.4,184.1 L741.9,184.1 L742.4,184.1 L742.9,184.2 L743.4,184.4 L743.9,184.6 L744.4,184.9 L744.9,185.2 L745.4,185.5 L745.9,185.8 L746.4,186.1 L746.9,186.3 L747.4,186.4 L748.4,186.4 L748.9,186.4 L749.4,186.3 L749.9,186.0 L750.4,185.7 L750.9,185.3 L751.4,185.0 L751.9,184.6 L752.4,184.3 L752.9,184.1 L753.4,183.9 L753.9,183.8 L754.4,183.8 L754.9,183.9 L755.4,184.0 L755.9,184.3 L756.4,184.6 L756.9,184.9 L757.4,185.3 L757.9,185.6 L758.4,185.9 L758.9,186.2 L759.4,186.4 L759.9,186.4 L786.4,186.4 L786.9,186.4 L787.4,186.3 L787.9,186.1 L788.4,185.9 L788.9,185.7 L789.4,185.5 L789.9,185.3 L790.4,185.1 L790.9,184.9 L791.4,184.8 L791.9,184.7 L792.4,184.6 L792.9,184.6 L793.4,184.6 L793.9,184.6 L794.4,184.7 L794.9,184.9 L795.4,185.0 L795.9,185.2 L796.4,185.4 L796.9,185.6 L797.4,185.9 L797.9,186.1 L798.4,186.2 L798.9,186.3 L799.4,186.4 L826.4,186.4 L826.9,186.4 L827.4,186.4 L827.9,186.4 L828.4,186.3 L828.9,186.3 L829.4,186.3 L829.9,186.3 L830.4,186.2 L830.9,186.2 L831.4,186.2 L831.9,186.2 L832.4,186.2 L832.9,186.1 L833.4,186.1 L833.9,186.1 L834.4,186.1 L834.9,186.1 L835.4,186.1 L835.9,186.1 L836.4,186.1 L836.9,186.1 L837.4,186.1 L837.9,186.2 L838.4,186.2 L838.9,186.2 L839.4,186.2 L839.9,186.3 L840.4,186.3 L840.9,186.3 L841.4,186.3 L841.9,186.4 L842.4,186.4 L842.9,186.4 L843.4,186.4 L887.4,186.4" fill="none" stroke="#ffa020" stroke-width="1.0"/><path d="M257.9,186.4 L283.4,186.4 L283.9,186.4 L284.4,186.3 L284.9,186.2 L285.4,186.2 L285.9,186.1 L286.4,186.0 L286.9,186.0 L287.4,185.9 L287.9,185.8 L288.4,185.8 L288.9,185.7 L289.4,185.7 L289.9,185.7 L290.4,185.7 L290.9,185.7 L291.4,185.8 L291.9,185.8 L292.4,185.9 L292.9,185.9 L293.4,186.0 L293.9,186.1 L294.4,186.1 L294.9,186.2 L295.4,186.3 L295.9,186.3 L296.4,186.4 L296.9,186.4 L306.4,186.4 L306.9,186.4 L307.4,186.3 L307.9,186.2 L308.4,186.1 L308.9,186.0 L309.4,185.9 L309.9,185.8 L310.4,185.7 L310.9,185.7 L311.4,185.6 L311.9,185.5 L312.4,185.5 L312.9,185.4 L313.4,185.4 L313.9,185.4 L314.4,185.4 L314.9,185.4 L315.4,185.4 L315.9,185.5 L316.4,185.6 L316.9,185.6 L317.4,185.7 L317.9,185.8 L318.4,185.9 L318.9,186.0 L319.4,186.1 L319.9,186.2 L320.4,186.3 L320.9,186.3 L321.4,186.4 L321.9,186.4 L325.4,186.4 L325.9,186.4 L326.4,186.0 L326.9,185.3 L327.4,184.3 L327.9,183.0 L328.4,181.7 L328.9,180.3 L329.4,178.9 L329.9,177.7 L330.4,176.5 L330.9,175.6 L331.4,174.8 L331.9,174.3 L332.4,174.1 L332.9,174.1 L333.4,174.4 L333.9,175.0 L334.4,175.8 L334.9,176.7 L335.4,177.9 L335.9,179.2 L336.4,180.6 L336.9,182.0 L337.4,183.3 L337.9,184.5 L338.4,185.5 L338.9,186.2 L339.4,186.4 L423.4,186.4 L423.9,186.3 L424.4,186.2 L424.9,185.9 L425.4,185.7 L425.9,185.4 L426.4,185.1 L426.9,184.8 L427.4,184.6 L427.9,184.4 L428.4,184.3 L428.9,184.2 L429.4,184.2 L429.9,184.2 L430.4,184.3 L430.9,184.5 L431.4,184.7 L431.9,184.9 L432.4,185.2 L432.9,185.5 L433.4,185.8 L433.9,186.0 L434.4,186.2 L434.9,186.4 L435.4,186.4 L495.4,186.4 L495.9,186.4 L496.4,186.4 L496.9,186.4 L497.4,186.3 L497.9,186.3 L498.4,186.3 L498.9,186.2 L499.4,186.2 L499.9,186.2 L500.4,186.2 L500.9,186.1 L501.4,186.1 L501.9,186.1 L502.4,186.1 L502.9,186.0 L503.4,186.0 L503.9,186.0 L504.4,186.0 L504.9,186.0 L505.4,186.0 L505.9,186.0 L506.4,186.0 L506.9,186.0 L507.4,186.1 L507.9,186.1 L508.4,186.1 L508.9,186.1 L509.4,186.1 L509.9,186.2 L510.4,186.2 L510.9,186.2 L511.4,186.3 L511.9,186.3 L512.4,186.3 L512.9,186.3 L513.4,186.4 L513.9,186.4 L514.4,186.4 L515.4,186.4 L515.9,186.4 L516.4,186.3 L516.9,186.3 L517.4,186.2 L517.9,186.1 L518.4,186.0 L518.9,186.0 L519.4,185.9 L519.9,185.8 L520.4,185.8 L520.9,185.8 L521.4,185.7 L521.9,185.7 L522.4,185.7 L522.9,185.7 L523.4,185.8 L523.9,185.8 L524.4,185.9 L524.9,185.9 L525.4,186.0 L525.9,186.1 L526.4,186.1 L526.9,186.2 L527.4,186.2 L527.9,186.1 L528.4,186.1 L528.9,186.0 L529.4,185.9 L529.9,185.8 L530.4,185.7 L530.9,185.7 L531.4,185.6 L531.9,185.6 L532.4,185.6 L532.9,185.7 L533.4,185.7 L533.9,185.8 L534.4,185.9 L534.9,185.9 L535.4,186.0 L535.9,186.1 L536.4,186.0 L536.9,185.9 L537.4,185.7 L537.9,185.5 L538.4,185.2 L538.9,185.0 L539.4,184.8 L539.9,184.7 L540.4,184.7 L540.9,184.7 L541.4,184.7 L541.9,184.6 L542.4,184.5 L542.9,184.0 L543.4,183.0 L543.9,181.7 L544.4,180.2 L544.9,178.6 L545.4,176.9 L545.9,175.3 L546.4,173.8 L546.9,172.6 L547.4,171.7 L547.9,171.1 L548.4,170.7 L548.9,170.7 L549.4,170.8 L549.9,171.2 L550.4,171.6 L550.9,172.4 L551.4,173.4 L551.9,174.6 L552.4,176.0 L552.9,177.6 L553.4,179.2 L553.9,180.8 L554.4,182.4 L554.9,183.8 L555.4,185.0 L555.9,185.9 L556.4,186.4 L556.9,186.4 L557.9,186.4 L558.4,186.3 L558.9,186.0 L559.4,185.7 L559.9,185.3 L560.4,184.9 L560.9,184.5 L561.4,184.2 L561.9,183.9 L562.4,183.7 L562.9,183.7 L563.4,183.7 L563.9,183.9 L564.4,184.2 L564.9,184.5 L565.4,184.9 L565.9,185.3 L566.4,185.7 L566.9,186.0 L567.4,186.3 L567.9,186.4 L569.4,186.4 L569.9,186.1 L570.4,185.6 L570.9,184.8 L571.4,183.9 L571.9,182.9 L572.4,181.9 L572.9,181.0 L573.4,180.2 L573.9,179.5 L574.4,179.0 L574.9,178.6 L575.4,178.5 L575.9,178.5 L576.4,178.8 L576.9,179.2 L577.4,179.8 L577.9,180.5 L578.4,181.3 L578.9,182.2 L579.4,183.1 L579.9,184.1 L580.4,184.9 L580.9,185.6 L581.4,186.2 L581.9,186.4 L582.4,185.5 L582.9,183.2 L583.4,179.8 L583.9,175.7 L584.4,171.2 L584.9,166.6 L585.4,162.1 L585.9,158.0 L586.4,154.4 L586.9,151.6 L587.4,149.5 L587.9,148.3 L588.4,148.0 L588.9,148.5 L589.4,149.7 L589.9,151.7 L590.4,154.2 L590.9,157.3 L591.4,160.9 L591.9,164.8 L592.4,168.9 L592.9,172.9 L593.4,176.9 L593.9,180.4 L594.4,183.3 L594.9,185.4 L595.4,186.4 L595.9,186.4 L596.4,186.4 L596.9,186.3 L597.4,186.2 L597.9,186.0 L598.4,185.7 L598.9,185.4 L599.4,185.0 L599.9,184.6 L600.4,184.2 L600.9,183.8 L601.4,183.4 L601.9,183.0 L602.4,182.7 L602.9,182.3 L603.4,182.0 L603.9,181.7 L604.4,181.4 L604.9,181.2 L605.4,181.0 L605.9,180.8 L606.4,180.7 L606.9,180.7 L607.4,180.7 L607.9,180.8 L608.4,181.1 L608.9,181.4 L609.4,181.8 L609.9,182.3 L610.4,182.8 L610.9,183.3 L611.4,183.8 L611.9,184.3 L612.4,184.7 L612.9,185.1 L613.4,185.3 L613.9,185.4 L614.4,185.4 L614.9,185.3 L615.4,185.3 L615.9,185.2 L616.4,185.2 L616.9,185.3 L617.4,185.3 L617.9,185.4 L618.4,185.5 L618.9,185.6 L619.4,185.7 L619.9,185.8 L620.4,186.0 L620.9,186.1 L621.4,186.2 L621.9,186.3 L622.4,186.4 L622.9,186.4 L683.9,186.4 L684.4,186.4 L684.9,186.3 L685.4,186.3 L685.9,186.2 L686.4,186.0 L686.9,185.9 L687.4,185.8 L687.9,185.7 L688.4,185.6 L688.9,185.6 L689.4,185.5 L689.9,185.5 L690.4,185.5 L690.9,185.6 L691.4,185.6 L691.9,185.7 L692.4,185.8 L692.9,185.9 L693.4,186.0 L693.9,186.1 L694.4,186.2 L694.9,186.3 L695.4,186.4 L695.9,186.4 L702.9,186.4 L703.4,186.4 L703.9,186.3 L704.4,186.2 L704.9,186.0 L705.4,185.9 L705.9,185.7 L706.4,185.6 L706.9,185.4 L707.4,185.3 L707.9,185.2 L708.4,185.2 L708.9,185.1 L709.4,185.2 L709.9,185.2 L710.4,185.3 L710.9,185.4 L711.4,185.5 L711.9,185.7 L712.4,185.8 L712.9,186.0 L713.4,186.1 L713.9,186.3 L714.4,186.4 L714.9,186.4 L721.9,186.4 L722.4,185.9 L722.9,183.9 L723.4,180.9 L723.9,177.1 L724.4,172.8 L724.9,168.4 L725.4,164.1 L725.9,160.0 L726.4,156.4 L726.9,153.4 L727.4,151.1 L727.9,149.6 L728.4,149.0 L728.9,149.2 L729.4,150.4 L729.9,152.4 L730.4,155.1 L730.9,158.5 L731.4,162.4 L731.9,166.6 L732.4,171.1 L732.9,175.4 L733.4,179.4 L733.9,182.8 L734.4,185.2 L734.9,186.4 L735.4,186.4 L736.4,186.4 L736.9,186.4 L737.4,186.2 L737.9,185.9 L738.4,185.6 L738.9,185.3 L739.4,185.0 L739.9,184.7 L740.4,184.4 L740.9,184.3 L741.4,184.1 L741.9,184.1 L742.4,184.1 L742.9,184.2 L743.4,184.4 L743.9,184.6 L744.4,184.9 L744.9,185.2 L745.4,185.5 L745.9,185.8 L746.4,186.1 L746.9,186.3 L747.4,186.4 L748.4,186.4 L748.9,186.4 L749.4,186.3 L749.9,186.0 L750.4,185.7 L750.9,185.3 L751.4,185.0 L751.9,184.6 L752.4,184.3 L752.9,184.1 L753.4,183.9 L753.9,183.8 L754.4,183.8 L754.9,183.9 L755.4,184.0 L755.9,184.3 L756.4,184.6 L756.9,184.9 L757.4,185.3 L757.9,185.6 L758.4,185.9 L758.9,186.2 L759.4,186.4 L759.9,186.4 L786.4,186.4 L786.9,186.4 L787.4,186.3 L787.9,186.1 L788.4,185.9 L788.9,185.7 L789.4,185.5 L789.9,185.3 L790.4,185.1 L790.9,184.9 L791.4,184.8 L791.9,184.7 L792.4,184.6 L792.9,184.6 L793.4,184.6 L793.9,184.6 L794.4,184.7 L794.9,184.9 L795.4,185.0 L795.9,185.2 L796.4,185.4 L796.9,185.6 L797.4,185.9 L797.9,186.1 L798.4,186.2 L798.9,186.3 L799.4,186.4 L826.4,186.4 L826.9,186.4 L827.4,186.4 L827.9,186.4 L828.4,186.3 L828.9,186.3 L829.4,186.3 L829.9,186.3 L830.4,186.2 L830.9,186.2 L831.4,186.2 L831.9,186.2 L832.4,186.2 L832.9,186.1 L833.4,186.1 L833.9,186.1 L834.4,186.1 L834.9,186.1 L835.4,186.1 L835.9,186.1 L836.4,186.1 L836.9,186.1 L837.4,186.1 L837.9,186.2 L838.4,186.2 L838.9,186.2 L839.4,186.2 L839.9,186.3 L840.4,186.3 L840.9,186.3 L841.4,186.3 L841.9,186.4 L842.4,186.4 L842.9,186.4 L843.4,186.4 L887.4,186.4" fill="none" stroke="#ffb810" stroke-width="1.0"/><path d="M257.9,186.4 L283.4,186.4 L283.9,186.4 L284.4,186.3 L284.9,186.2 L285.4,186.2 L285.9,186.1 L286.4,186.0 L286.9,186.0 L287.4,185.9 L287.9,185.8 L288.4,185.8 L288.9,185.7 L289.4,185.7 L289.9,185.7 L290.4,185.7 L290.9,185.7 L291.4,185.8 L291.9,185.8 L292.4,185.9 L292.9,185.9 L293.4,186.0 L293.9,186.1 L294.4,186.1 L294.9,186.2 L295.4,186.3 L295.9,186.3 L296.4,186.4 L296.9,186.4 L306.4,186.4 L306.9,186.4 L307.4,186.3 L307.9,186.2 L308.4,186.1 L308.9,186.0 L309.4,185.9 L309.9,185.8 L310.4,185.7 L310.9,185.7 L311.4,185.6 L311.9,185.5 L312.4,185.5 L312.9,185.4 L313.4,185.4 L313.9,185.4 L314.4,185.4 L314.9,185.4 L315.4,185.4 L315.9,185.5 L316.4,185.6 L316.9,185.6 L317.4,185.7 L317.9,185.8 L318.4,185.9 L318.9,186.0 L319.4,186.1 L319.9,186.2 L320.4,186.3 L320.9,186.3 L321.4,186.4 L321.9,186.4 L325.4,186.4 L325.9,186.4 L326.4,186.0 L326.9,185.3 L327.4,184.3 L327.9,183.0 L328.4,181.7 L328.9,180.3 L329.4,178.9 L329.9,177.7 L330.4,176.5 L330.9,175.6 L331.4,174.8 L331.9,174.3 L332.4,174.1 L332.9,174.1 L333.4,174.4 L333.9,175.0 L334.4,175.8 L334.9,176.7 L335.4,177.9 L335.9,179.2 L336.4,180.6 L336.9,182.0 L337.4,183.3 L337.9,184.5 L338.4,185.5 L338.9,186.2 L339.4,186.4 L423.4,186.4 L423.9,186.3 L424.4,186.2 L424.9,185.9 L425.4,185.7 L425.9,185.4 L426.4,185.1 L426.9,184.8 L427.4,184.6 L427.9,184.4 L428.4,184.3 L428.9,184.2 L429.4,184.2 L429.9,184.2 L430.4,184.3 L430.9,184.5 L431.4,184.7 L431.9,184.9 L432.4,185.2 L432.9,185.5 L433.4,185.8 L433.9,186.0 L434.4,186.2 L434.9,186.4 L435.4,186.4 L495.4,186.4 L495.9,186.4 L496.4,186.4 L496.9,186.4 L497.4,186.3 L497.9,186.3 L498.4,186.3 L498.9,186.2 L499.4,186.2 L499.9,186.2 L500.4,186.2 L500.9,186.1 L501.4,186.1 L501.9,186.1 L502.4,186.1 L502.9,186.0 L503.4,186.0 L503.9,186.0 L504.4,186.0 L504.9,186.0 L505.4,186.0 L505.9,186.0 L506.4,186.0 L506.9,186.0 L507.4,186.1 L507.9,186.1 L508.4,186.1 L508.9,186.1 L509.4,186.1 L509.9,186.2 L510.4,186.2 L510.9,186.2 L511.4,186.3 L511.9,186.3 L512.4,186.3 L512.9,186.3 L513.4,186.4 L513.9,186.4 L514.4,186.4 L515.4,186.4 L515.9,186.4 L516.4,186.3 L516.9,186.3 L517.4,186.2 L517.9,186.1 L518.4,186.0 L518.9,186.0 L519.4,185.9 L519.9,185.8 L520.4,185.8 L520.9,185.8 L521.4,185.7 L521.9,185.7 L522.4,185.7 L522.9,185.7 L523.4,185.8 L523.9,185.8 L524.4,185.9 L524.9,185.9 L525.4,186.0 L525.9,186.1 L526.4,186.1 L526.9,186.2 L527.4,186.2 L527.9,186.1 L528.4,186.1 L528.9,186.0 L529.4,185.9 L529.9,185.8 L530.4,185.7 L530.9,185.7 L531.4,185.6 L531.9,185.6 L532.4,185.6 L532.9,185.7 L533.4,185.7 L533.9,185.8 L534.4,185.9 L534.9,185.9 L535.4,186.0 L535.9,186.1 L536.4,186.0 L536.9,185.9 L537.4,185.7 L537.9,185.5 L538.4,185.2 L538.9,185.0 L539.4,184.8 L539.9,184.7 L540.4,184.7 L540.9,184.7 L541.4,184.7 L541.9,184.6 L542.4,184.5 L542.9,184.0 L543.4,183.0 L543.9,181.7 L544.4,180.2 L544.9,178.6 L545.4,176.9 L545.9,175.3 L546.4,173.8 L546.9,172.6 L547.4,171.7 L547.9,171.1 L548.4,170.7 L548.9,170.7 L549.4,170.8 L549.9,171.2 L550.4,171.6 L550.9,172.4 L551.4,173.4 L551.9,174.6 L552.4,176.0 L552.9,177.6 L553.4,179.2 L553.9,180.8 L554.4,182.4 L554.9,183.8 L555.4,185.0 L555.9,185.9 L556.4,186.4 L556.9,186.4 L557.9,186.4 L558.4,186.3 L558.9,186.0 L559.4,185.7 L559.9,185.3 L560.4,184.9 L560.9,184.5 L561.4,184.2 L561.9,183.9 L562.4,183.7 L562.9,183.7 L563.4,183.7 L563.9,183.9 L564.4,184.2 L564.9,184.5 L565.4,184.9 L565.9,185.3 L566.4,185.7 L566.9,186.0 L567.4,186.3 L567.9,186.4 L568.9,186.4 L569.4,186.4 L569.9,185.9 L570.4,184.8 L570.9,183.3 L571.4,181.5 L571.9,179.7 L572.4,177.8 L572.9,176.0 L573.4,174.4 L573.9,173.1 L574.4,172.0 L574.9,171.4 L575.4,171.1 L575.9,171.2 L576.4,171.7 L576.9,172.5 L577.4,173.6 L577.9,175.0 L578.4,176.6 L578.9,178.3 L579.4,180.1 L579.9,181.9 L580.4,183.5 L580.9,184.9 L581.4,185.9 L581.9,186.4 L582.4,185.5 L582.9,183.2 L583.4,179.8 L583.9,175.7 L584.4,171.2 L584.9,166.6 L585.4,162.1 L585.9,158.0 L586.4,154.4 L586.9,151.6 L587.4,149.5 L587.9,148.3 L588.4,148.0 L588.9,148.5 L589.4,149.7 L589.9,151.7 L590.4,154.2 L590.9,157.3 L591.4,160.9 L591.9,164.8 L592.4,168.9 L592.9,172.9 L593.4,176.9 L593.9,180.4 L594.4,183.3 L594.9,185.4 L595.4,186.4 L595.9,186.4 L596.4,186.4 L596.9,186.3 L597.4,186.0 L597.9,185.6 L598.4,185.0 L598.9,184.4 L599.4,183.7 L599.9,183.0 L600.4,182.2 L600.9,181.5 L601.4,180.7 L601.9,179.9 L602.4,179.2 L602.9,178.5 L603.4,177.8 L603.9,177.2 L604.4,176.7 L604.9,176.3 L605.4,175.9 L605.9,175.7 L606.4,175.5 L606.9,175.4 L607.4,175.4 L607.9,175.7 L608.4,176.1 L608.9,176.7 L609.4,177.5 L609.9,178.5 L610.4,179.5 L610.9,180.6 L611.4,181.6 L611.9,182.7 L612.4,183.6 L612.9,184.4 L613.4,185.0 L613.9,185.4 L614.4,185.4 L614.9,185.3 L615.4,185.3 L615.9,185.2 L616.4,185.2 L616.9,185.3 L617.4,185.3 L617.9,185.4 L618.4,185.5 L618.9,185.6 L619.4,185.7 L619.9,185.8 L620.4,186.0 L620.9,186.1 L621.4,186.2 L621.9,186.3 L622.4,186.4 L622.9,186.4 L683.9,186.4 L684.4,186.4 L684.9,186.3 L685.4,186.3 L685.9,186.2 L686.4,186.0 L686.9,185.9 L687.4,185.8 L687.9,185.7 L688.4,185.6 L688.9,185.6 L689.4,185.5 L689.9,185.5 L690.4,185.5 L690.9,185.6 L691.4,185.6 L691.9,185.7 L692.4,185.8 L692.9,185.9 L693.4,186.0 L693.9,186.1 L694.4,186.2 L694.9,186.3 L695.4,186.4 L695.9,186.4 L702.9,186.4 L703.4,186.4 L703.9,186.3 L704.4,186.2 L704.9,186.0 L705.4,185.9 L705.9,185.7 L706.4,185.6 L706.9,185.4 L707.4,185.3 L707.9,185.2 L708.4,185.2 L708.9,185.1 L709.4,185.2 L709.9,185.2 L710.4,185.3 L710.9,185.4 L711.4,185.5 L711.9,185.7 L712.4,185.8 L712.9,186.0 L713.4,186.1 L713.9,186.3 L714.4,186.4 L714.9,186.4 L721.9,186.4 L722.4,185.9 L722.9,184.0 L723.4,181.0 L723.9,177.3 L724.4,173.2 L724.9,168.9 L725.4,164.6 L725.9,160.7 L726.4,157.1 L726.9,154.2 L727.4,152.0 L727.9,150.5 L728.4,149.9 L728.9,150.2 L729.4,151.3 L729.9,153.2 L730.4,155.9 L730.9,159.2 L731.4,163.0 L731.9,167.2 L732.4,171.5 L732.9,175.7 L733.4,179.6 L733.9,182.9 L734.4,185.3 L734.9,186.4 L735.4,186.4 L736.4,186.4 L736.9,186.4 L737.4,186.2 L737.9,185.9 L738.4,185.6 L738.9,185.3 L739.4,185.0 L739.9,184.7 L740.4,184.4 L740.9,184.3 L741.4,184.1 L741.9,184.1 L742.4,184.1 L742.9,184.2 L743.4,184.4 L743.9,184.6 L744.4,184.9 L744.9,185.2 L745.4,185.5 L745.9,185.8 L746.4,186.1 L746.9,186.3 L747.4,186.4 L748.4,186.4 L748.9,186.4 L749.4,186.3 L749.9,186.0 L750.4,185.7 L750.9,185.3 L751.4,185.0 L751.9,184.6 L752.4,184.3 L752.9,184.1 L753.4,183.9 L753.9,183.8 L754.4,183.8 L754.9,183.9 L755.4,184.0 L755.9,184.3 L756.4,184.6 L756.9,184.9 L757.4,185.3 L757.9,185.6 L758.4,185.9 L758.9,186.2 L759.4,186.4 L759.9,186.4 L786.4,186.4 L786.9,186.4 L787.4,186.3 L787.9,186.1 L788.4,185.9 L788.9,185.7 L789.4,185.5 L789.9,185.3 L790.4,185.1 L790.9,184.9 L791.4,184.8 L791.9,184.7 L792.4,184.6 L792.9,184.6 L793.4,184.6 L793.9,184.6 L794.4,184.7 L794.9,184.9 L795.4,185.0 L795.9,185.2 L796.4,185.4 L796.9,185.6 L797.4,185.9 L797.9,186.1 L798.4,186.2 L798.9,186.3 L799.4,186.4 L826.4,186.4 L826.9,186.4 L827.4,186.4 L827.9,186.4 L828.4,186.3 L828.9,186.3 L829.4,186.3 L829.9,186.3 L830.4,186.2 L830.9,186.2 L831.4,186.2 L831.9,186.2 L832.4,186.2 L832.9,186.1 L833.4,186.1 L833.9,186.1 L834.4,186.1 L834.9,186.1 L835.4,186.1 L835.9,186.1 L836.4,186.1 L836.9,186.1 L837.4,186.1 L837.9,186.2 L838.4,186.2 L838.9,186.2 L839.4,186.2 L839.9,186.3 L840.4,186.3 L840.9,186.3 L841.4,186.3 L841.9,186.4 L842.4,186.4 L842.9,186.4 L843.4,186.4 L887.4,186.4" fill="none" stroke="#ffd400" stroke-width="1.0"/><path d="M257.9,186.4 L283.4,186.4 L283.9,186.4 L284.4,186.3 L284.9,186.2 L285.4,186.2 L285.9,186.1 L286.4,186.0 L286.9,186.0 L287.4,185.9 L287.9,185.8 L288.4,185.8 L288.9,185.7 L289.4,185.7 L289.9,185.7 L290.4,185.7 L290.9,185.7 L291.4,185.8 L291.9,185.8 L292.4,185.9 L292.9,185.9 L293.4,186.0 L293.9,186.1 L294.4,186.1 L294.9,186.2 L295.4,186.3 L295.9,186.3 L296.4,186.4 L296.9,186.4 L306.4,186.4 L306.9,186.4 L307.4,186.3 L307.9,186.2 L308.4,186.1 L308.9,186.0 L309.4,185.9 L309.9,185.8 L310.4,185.7 L310.9,185.7 L311.4,185.6 L311.9,185.5 L312.4,185.5 L312.9,185.4 L313.4,185.4 L313.9,185.4 L314.4,185.4 L314.9,185.4 L315.4,185.4 L315.9,185.5 L316.4,185.6 L316.9,185.6 L317.4,185.7 L317.9,185.8 L318.4,185.9 L318.9,186.0 L319.4,186.1 L319.9,186.2 L320.4,186.3 L320.9,186.3 L321.4,186.4 L321.9,186.4 L325.4,186.4 L325.9,186.4 L326.4,186.0 L326.9,185.3 L327.4,184.3 L327.9,183.0 L328.4,181.7 L328.9,180.3 L329.4,178.9 L329.9,177.7 L330.4,176.5 L330.9,175.6 L331.4,174.8 L331.9,174.3 L332.4,174.1 L332.9,174.1 L333.4,174.4 L333.9,175.0 L334.4,175.8 L334.9,176.7 L335.4,177.9 L335.9,179.2 L336.4,180.6 L336.9,182.0 L337.4,183.3 L337.9,184.5 L338.4,185.5 L338.9,186.2 L339.4,186.4 L423.4,186.4 L423.9,186.3 L424.4,186.2 L424.9,185.9 L425.4,185.7 L425.9,185.4 L426.4,185.1 L426.9,184.8 L427.4,184.6 L427.9,184.4 L428.4,184.3 L428.9,184.2 L429.4,184.2 L429.9,184.2 L430.4,184.3 L430.9,184.5 L431.4,184.7 L431.9,184.9 L432.4,185.2 L432.9,185.5 L433.4,185.8 L433.9,186.0 L434.4,186.2 L434.9,186.4 L435.4,186.4 L495.4,186.4 L495.9,186.4 L496.4,186.4 L496.9,186.4 L497.4,186.3 L497.9,186.3 L498.4,186.3 L498.9,186.2 L499.4,186.2 L499.9,186.2 L500.4,186.2 L500.9,186.1 L501.4,186.1 L501.9,186.1 L502.4,186.1 L502.9,186.0 L503.4,186.0 L503.9,186.0 L504.4,186.0 L504.9,186.0 L505.4,186.0 L505.9,186.0 L506.4,186.0 L506.9,186.0 L507.4,186.1 L507.9,186.1 L508.4,186.1 L508.9,186.1 L509.4,186.1 L509.9,186.2 L510.4,186.2 L510.9,186.2 L511.4,186.3 L511.9,186.3 L512.4,186.3 L512.9,186.3 L513.4,186.4 L513.9,186.4 L514.4,186.4 L515.4,186.4 L515.9,186.4 L516.4,186.3 L516.9,186.3 L517.4,186.2 L517.9,186.1 L518.4,186.0 L518.9,186.0 L519.4,185.9 L519.9,185.8 L520.4,185.8 L520.9,185.8 L521.4,185.7 L521.9,185.7 L522.4,185.7 L522.9,185.7 L523.4,185.8 L523.9,185.8 L524.4,185.9 L524.9,185.9 L525.4,186.0 L525.9,186.1 L526.4,186.1 L526.9,186.2 L527.4,186.2 L527.9,186.1 L528.4,186.1 L528.9,186.0 L529.4,185.9 L529.9,185.8 L530.4,185.7 L530.9,185.7 L531.4,185.6 L531.9,185.6 L532.4,185.6 L532.9,185.7 L533.4,185.7 L533.9,185.8 L534.4,185.9 L534.9,185.9 L535.4,186.0 L535.9,186.1 L536.4,186.0 L536.9,185.9 L537.4,185.7 L537.9,185.5 L538.4,185.2 L538.9,185.0 L539.4,184.8 L539.9,184.7 L540.4,184.7 L540.9,184.7 L541.4,184.7 L541.9,184.6 L542.4,184.5 L542.9,184.0 L543.4,183.0 L543.9,181.7 L544.4,180.2 L544.9,178.6 L545.4,176.9 L545.9,175.3 L546.4,173.8 L546.9,172.6 L547.4,171.7 L547.9,171.1 L548.4,170.7 L548.9,170.7 L549.4,170.8 L549.9,171.2 L550.4,171.6 L550.9,172.4 L551.4,173.4 L551.9,174.6 L552.4,176.0 L552.9,177.6 L553.4,179.2 L553.9,180.8 L554.4,182.4 L554.9,183.8 L555.4,185.0 L555.9,185.9 L556.4,186.4 L556.9,186.4 L557.9,186.4 L558.4,186.3 L558.9,186.0 L559.4,185.7 L559.9,185.3 L560.4,184.9 L560.9,184.5 L561.4,184.2 L561.9,183.9 L562.4,183.7 L562.9,183.7 L563.4,183.7 L563.9,183.9 L564.4,184.2 L564.9,184.5 L565.4,184.9 L565.9,185.3 L566.4,185.7 L566.9,186.0 L567.4,186.3 L567.9,186.4 L568.9,186.4 L569.4,186.4 L569.9,185.4 L570.4,183.2 L570.9,180.3 L571.4,176.8 L571.9,173.1 L572.4,169.3 L572.9,165.8 L573.4,162.6 L573.9,159.9 L574.4,157.9 L574.9,156.6 L575.4,156.1 L575.9,156.3 L576.4,157.2 L576.9,158.8 L577.4,161.0 L577.9,163.8 L578.4,166.9 L578.9,170.4 L579.4,174.0 L579.9,177.5 L580.4,180.7 L580.9,183.5 L581.4,185.5 L581.9,186.4 L582.4,185.5 L582.9,183.2 L583.4,179.8 L583.9,175.7 L584.4,171.2 L584.9,166.6 L585.4,162.1 L585.9,158.0 L586.4,154.4 L586.9,151.6 L587.4,149.5 L587.9,148.3 L588.4,148.0 L588.9,148.5 L589.4,149.7 L589.9,151.7 L590.4,154.2 L590.9,157.3 L591.4,160.9 L591.9,164.8 L592.4,168.9 L592.9,172.9 L593.4,176.9 L593.9,180.4 L594.4,183.3 L594.9,185.4 L595.4,186.4 L595.9,186.4 L596.4,186.4 L596.9,186.1 L597.4,185.6 L597.9,184.8 L598.4,183.7 L598.9,182.5 L599.4,181.1 L599.9,179.7 L600.4,178.1 L600.9,176.6 L601.4,175.0 L601.9,173.5 L602.4,172.1 L602.9,170.7 L603.4,169.4 L603.9,168.2 L604.4,167.2 L604.9,166.3 L605.4,165.6 L605.9,165.1 L606.4,164.8 L606.9,164.6 L607.4,164.7 L607.9,165.1 L608.4,166.0 L608.9,167.2 L609.4,168.8 L609.9,170.7 L610.4,172.8 L610.9,175.0 L611.4,177.2 L611.9,179.3 L612.4,181.3 L612.9,183.1 L613.4,184.4 L613.9,185.2 L614.4,185.4 L614.9,185.3 L615.4,185.3 L615.9,185.2 L616.4,185.2 L616.9,185.3 L617.4,185.3 L617.9,185.4 L618.4,185.5 L618.9,185.6 L619.4,185.7 L619.9,185.8 L620.4,186.0 L620.9,186.1 L621.4,186.2 L621.9,186.3 L622.4,186.4 L622.9,186.4 L683.9,186.4 L684.4,186.4 L684.9,186.3 L685.4,186.3 L685.9,186.2 L686.4,186.0 L686.9,185.9 L687.4,185.8 L687.9,185.7 L688.4,185.6 L688.9,185.6 L689.4,185.5 L689.9,185.5 L690.4,185.5 L690.9,185.6 L691.4,185.6 L691.9,185.7 L692.4,185.8 L692.9,185.9 L693.4,186.0 L693.9,186.1 L694.4,186.2 L694.9,186.3 L695.4,186.4 L695.9,186.4 L702.9,186.4 L703.4,186.4 L703.9,186.3 L704.4,186.2 L704.9,186.0 L705.4,185.9 L705.9,185.7 L706.4,185.6 L706.9,185.4 L707.4,185.3 L707.9,185.2 L708.4,185.2 L708.9,185.1 L709.4,185.2 L709.9,185.2 L710.4,185.3 L710.9,185.4 L711.4,185.5 L711.9,185.7 L712.4,185.8 L712.9,186.0 L713.4,186.1 L713.9,186.3 L714.4,186.4 L714.9,186.4 L721.9,186.4 L722.4,185.9 L722.9,184.1 L723.4,181.2 L723.9,177.6 L724.4,173.6 L724.9,169.5 L725.4,165.4 L725.9,161.6 L726.4,158.2 L726.9,155.3 L727.4,153.2 L727.9,151.8 L728.4,151.2 L728.9,151.5 L729.4,152.5 L729.9,154.4 L730.4,157.0 L730.9,160.1 L731.4,163.8 L731.9,167.8 L732.4,172.0 L732.9,176.1 L733.4,179.8 L733.9,183.0 L734.4,185.3 L734.9,186.4 L735.4,186.4 L736.4,186.4 L736.9,186.4 L737.4,186.2 L737.9,185.9 L738.4,185.6 L738.9,185.3 L739.4,185.0 L739.9,184.7 L740.4,184.4 L740.9,184.3 L741.4,184.1 L741.9,184.1 L742.4,184.1 L742.9,184.2 L743.4,184.4 L743.9,184.6 L744.4,184.9 L744.9,185.2 L745.4,185.5 L745.9,185.8 L746.4,186.1 L746.9,186.3 L747.4,186.4 L748.4,186.4 L748.9,186.4 L749.4,186.3 L749.9,186.0 L750.4,185.7 L750.9,185.3 L751.4,185.0 L751.9,184.6 L752.4,184.3 L752.9,184.1 L753.4,183.9 L753.9,183.8 L754.4,183.8 L754.9,183.9 L755.4,184.0 L755.9,184.3 L756.4,184.6 L756.9,184.9 L757.4,185.3 L757.9,185.6 L758.4,185.9 L758.9,186.2 L759.4,186.4 L759.9,186.4 L786.4,186.4 L786.9,186.4 L787.4,186.3 L787.9,186.1 L788.4,185.9 L788.9,185.7 L789.4,185.5 L789.9,185.3 L790.4,185.1 L790.9,184.9 L791.4,184.8 L791.9,184.7 L792.4,184.6 L792.9,184.6 L793.4,184.6 L793.9,184.6 L794.4,184.7 L794.9,184.9 L795.4,185.0 L795.9,185.2 L796.4,185.4 L796.9,185.6 L797.4,185.9 L797.9,186.1 L798.4,186.2 L798.9,186.3 L799.4,186.4 L826.4,186.4 L826.9,186.4 L827.4,186.4 L827.9,186.4 L828.4,186.3 L828.9,186.3 L829.4,186.3 L829.9,186.3 L830.4,186.2 L830.9,186.2 L831.4,186.2 L831.9,186.2 L832.4,186.2 L832.9,186.1 L833.4,186.1 L833.9,186.1 L834.4,186.1 L834.9,186.1 L835.4,186.1 L835.9,186.1 L836.4,186.1 L836.9,186.1 L837.4,186.1 L837.9,186.2 L838.4,186.2 L838.9,186.2 L839.4,186.2 L839.9,186.3 L840.4,186.3 L840.9,186.3 L841.4,186.3 L841.9,186.4 L842.4,186.4 L842.9,186.4 L843.4,186.4 L887.4,186.4" fill="none" stroke="#ffff00" stroke-width="1.0"/><path d="M257.9,186.4 L283.4,186.4 L283.9,186.4 L284.4,186.3 L284.9,186.2 L285.4,186.2 L285.9,186.1 L286.4,186.0 L286.9,186.0 L287.4,185.9 L287.9,185.8 L288.4,185.8 L288.9,185.7 L289.4,185.7 L289.9,185.7 L290.4,185.7 L290.9,185.7 L291.4,185.8 L291.9,185.8 L292.4,185.9 L292.9,185.9 L293.4,186.0 L293.9,186.1 L294.4,186.1 L294.9,186.2 L295.4,186.3 L295.9,186.3 L296.4,186.4 L296.9,186.4 L306.4,186.4 L306.9,186.4 L307.4,186.3 L307.9,186.2 L308.4,186.1 L308.9,186.0 L309.4,185.9 L309.9,185.8 L310.4,185.7 L310.9,185.7 L311.4,185.6 L311.9,185.5 L312.4,185.5 L312.9,185.4 L313.4,185.4 L313.9,185.4 L314.4,185.4 L314.9,185.4 L315.4,185.4 L315.9,185.5 L316.4,185.6 L316.9,185.6 L317.4,185.7 L317.9,185.8 L318.4,185.9 L318.9,186.0 L319.4,186.1 L319.9,186.2 L320.4,186.3 L320.9,186.3 L321.4,186.4 L321.9,186.4 L325.4,186.4 L325.9,186.4 L326.4,186.0 L326.9,185.3 L327.4,184.3 L327.9,183.0 L328.4,181.7 L328.9,180.3 L329.4,178.9 L329.9,177.7 L330.4,176.5 L330.9,175.6 L331.4,174.8 L331.9,174.3 L332.4,174.1 L332.9,174.1 L333.4,174.4 L333.9,175.0 L334.4,175.8 L334.9,176.7 L335.4,177.9 L335.9,179.2 L336.4,180.6 L336.9,182.0 L337.4,183.3 L337.9,184.5 L338.4,185.5 L338.9,186.2 L339.4,186.4 L423.4,186.4 L423.9,186.3 L424.4,186.2 L424.9,185.9 L425.4,185.7 L425.9,185.4 L426.4,185.1 L426.9,184.8 L427.4,184.6 L427.9,184.4 L428.4,184.3 L428.9,184.2 L429.4,184.2 L429.9,184.2 L430.4,184.3 L430.9,184.5 L431.4,184.7 L431.9,184.9 L432.4,185.2 L432.9,185.5 L433.4,185.8 L433.9,186.0 L434.4,186.2 L434.9,186.4 L435.4,186.4 L495.4,186.4 L495.9,186.4 L496.4,186.4 L496.9,186.4 L497.4,186.3 L497.9,186.3 L498.4,186.3 L498.9,186.2 L499.4,186.2 L499.9,186.2 L500.4,186.2 L500.9,186.1 L501.4,186.1 L501.9,186.1 L502.4,186.1 L502.9,186.0 L503.4,186.0 L503.9,186.0 L504.4,186.0 L504.9,186.0 L505.4,186.0 L505.9,186.0 L506.4,186.0 L506.9,186.0 L507.4,186.1 L507.9,186.1 L508.4,186.1 L508.9,186.1 L509.4,186.1 L509.9,186.2 L510.4,186.2 L510.9,186.2 L511.4,186.3 L511.9,186.3 L512.4,186.3 L512.9,186.3 L513.4,186.4 L513.9,186.4 L514.4,186.4 L515.4,186.4 L515.9,186.4 L516.4,186.3 L516.9,186.3 L517.4,186.2 L517.9,186.1 L518.4,186.0 L518.9,186.0 L519.4,185.9 L519.9,185.8 L520.4,185.8 L520.9,185.8 L521.4,185.7 L521.9,185.7 L522.4,185.7 L522.9,185.7 L523.4,185.8 L523.9,185.8 L524.4,185.9 L524.9,185.9 L525.4,186.0 L525.9,186.1 L526.4,186.1 L526.9,186.2 L527.4,186.2 L527.9,186.1 L528.4,186.1 L528.9,186.0 L529.4,185.9 L529.9,185.8 L530.4,185.7 L530.9,185.7 L531.4,185.6 L531.9,185.6 L532.4,185.6 L532.9,185.7 L533.4,185.7 L533.9,185.8 L534.4,185.9 L534.9,185.9 L535.4,186.0 L535.9,186.1 L536.4,186.0 L536.9,185.9 L537.4,185.7 L537.9,185.5 L538.4,185.2 L538.9,185.0 L539.4,184.8 L539.9,184.7 L540.4,184.7 L540.9,184.7 L541.4,184.7 L541.9,184.6 L542.4,184.5 L542.9,184.0 L543.4,183.0 L543.9,181.7 L544.4,180.2 L544.9,178.6 L545.4,176.9 L545.9,175.3 L546.4,173.8 L546.9,172.6 L547.4,171.7 L547.9,171.1 L548.4,170.7 L548.9,170.7 L549.4,170.8 L549.9,171.2 L550.4,171.6 L550.9,172.4 L551.4,173.4 L551.9,174.6 L552.4,176.0 L552.9,177.6 L553.4,179.2 L553.9,180.8 L554.4,182.4 L554.9,183.8 L555.4,185.0 L555.9,185.9 L556.4,186.4 L556.9,186.4 L557.9,186.4 L558.4,186.3 L558.9,186.0 L559.4,185.7 L559.9,185.3 L560.4,184.9 L560.9,184.5 L561.4,184.2 L561.9,183.9 L562.4,183.7 L562.9,183.7 L563.4,183.7 L563.9,183.9 L564.4,184.2 L564.9,184.5 L565.4,184.9 L565.9,185.3 L566.4,185.7 L566.9,186.0 L567.4,186.3 L567.9,186.4 L568.9,186.4 L569.4,186.4 L569.9,184.8 L570.4,181.4 L570.9,176.8 L571.4,171.3 L571.9,165.5 L572.4,159.6 L572.9,154.1 L573.4,149.1 L573.9,144.9 L574.4,141.7 L574.9,139.7 L575.4,138.8 L575.9,139.1 L576.4,140.6 L576.9,143.1 L577.4,146.6 L577.9,150.9 L578.4,155.9 L578.9,161.3 L579.4,166.9 L579.9,172.4 L580.4,177.5 L580.9,181.8 L581.4,184.9 L581.9,186.4 L582.4,185.5 L582.9,183.2 L583.4,179.8 L583.9,175.7 L584.4,171.2 L584.9,166.6 L585.4,162.1 L585.9,158.0 L586.4,154.4 L586.9,151.6 L587.4,149.5 L587.9,148.3 L588.4,148.0 L588.9,148.5 L589.4,149.7 L589.9,151.7 L590.4,154.2 L590.9,157.3 L591.4,160.9 L591.9,164.8 L592.4,168.9 L592.9,172.9 L593.4,176.9 L593.9,180.4 L594.4,183.3 L594.9,185.4 L595.4,186.4 L595.9,186.4 L596.4,186.4 L596.9,186.0 L597.4,185.1 L597.9,183.8 L598.4,182.2 L598.9,180.3 L599.4,178.1 L599.9,175.8 L600.4,173.4 L600.9,171.0 L601.4,168.6 L601.9,166.2 L602.4,163.9 L602.9,161.7 L603.4,159.7 L603.9,157.9 L604.4,156.3 L604.9,155.0 L605.4,153.9 L605.9,153.0 L606.4,152.5 L606.9,152.2 L607.4,152.3 L607.9,153.0 L608.4,154.4 L608.9,156.3 L609.4,158.8 L609.9,161.7 L610.4,165.0 L610.9,168.5 L611.4,172.0 L611.9,175.5 L612.4,178.7 L612.9,181.6 L613.4,183.8 L613.9,185.1 L614.4,185.4 L614.9,185.3 L615.4,185.3 L615.9,185.2 L616.4,185.2 L616.9,185.3 L617.4,185.3 L617.9,185.4 L618.4,185.5 L618.9,185.6 L619.4,185.7 L619.9,185.8 L620.4,186.0 L620.9,186.1 L621.4,186.2 L621.9,186.3 L622.4,186.4 L622.9,186.4 L683.9,186.4 L684.4,186.4 L684.9,186.3 L685.4,186.3 L685.9,186.2 L686.4,186.0 L686.9,185.9 L687.4,185.8 L687.9,185.7 L688.4,185.6 L688.9,185.6 L689.4,185.5 L689.9,185.5 L690.4,185.5 L690.9,185.6 L691.4,185.6 L691.9,185.7 L692.4,185.8 L692.9,185.9 L693.4,186.0 L693.9,186.1 L694.4,186.2 L694.9,186.3 L695.4,186.4 L695.9,186.4 L702.9,186.4 L703.4,186.4 L703.9,186.3 L704.4,186.2 L704.9,186.0 L705.4,185.9 L705.9,185.7 L706.4,185.6 L706.9,185.4 L707.4,185.3 L707.9,185.2 L708.4,185.2 L708.9,185.1 L709.4,185.2 L709.9,185.2 L710.4,185.3 L710.9,185.4 L711.4,185.5 L711.9,185.7 L712.4,185.8 L712.9,186.0 L713.4,186.1 L713.9,186.3 L714.4,186.4 L714.9,186.4 L721.9,186.4 L722.4,185.9 L722.9,184.1 L723.4,181.4 L723.9,177.9 L724.4,174.1 L724.9,170.1 L725.4,166.2 L725.9,162.5 L726.4,159.2 L726.9,156.5 L727.4,154.4 L727.9,153.1 L728.4,152.5 L728.9,152.7 L729.4,153.8 L729.9,155.6 L730.4,158.0 L730.9,161.1 L731.4,164.6 L731.9,168.5 L732.4,172.5 L732.9,176.4 L733.4,180.1 L733.9,183.1 L734.4,185.3 L734.9,186.4 L735.4,186.4 L736.4,186.4 L736.9,186.4 L737.4,186.2 L737.9,185.9 L738.4,185.6 L738.9,185.3 L739.4,185.0 L739.9,184.7 L740.4,184.4 L740.9,184.3 L741.4,184.1 L741.9,184.1 L742.4,184.1 L742.9,184.2 L743.4,184.4 L743.9,184.6 L744.4,184.9 L744.9,185.2 L745.4,185.5 L745.9,185.8 L746.4,186.1 L746.9,186.3 L747.4,186.4 L748.4,186.4 L748.9,186.4 L749.4,186.3 L749.9,186.0 L750.4,185.7 L750.9,185.3 L751.4,185.0 L751.9,184.6 L752.4,184.3 L752.9,184.1 L753.4,183.9 L753.9,183.8 L754.4,183.8 L754.9,183.9 L755.4,184.0 L755.9,184.3 L756.4,184.6 L756.9,184.9 L757.4,185.3 L757.9,185.6 L758.4,185.9 L758.9,186.2 L759.4,186.4 L759.9,186.4 L786.4,186.4 L786.9,186.4 L787.4,186.3 L787.9,186.1 L788.4,185.9 L788.9,185.7 L789.4,185.5 L789.9,185.3 L790.4,185.1 L790.9,184.9 L791.4,184.8 L791.9,184.7 L792.4,184.6 L792.9,184.6 L793.4,184.6 L793.9,184.6 L794.4,184.7 L794.9,184.9 L795.4,185.0 L795.9,185.2 L796.4,185.4 L796.9,185.6 L797.4,185.9 L797.9,186.1 L798.4,186.2 L798.9,186.3 L799.4,186.4 L826.4,186.4 L826.9,186.4 L827.4,186.4 L827.9,186.4 L828.4,186.3 L828.9,186.3 L829.4,186.3 L829.9,186.3 L830.4,186.2 L830.9,186.2 L831.4,186.2 L831.9,186.2 L832.4,186.2 L832.9,186.1 L833.4,186.1 L833.9,186.1 L834.4,186.1 L834.9,186.1 L835.4,186.1 L835.9,186.1 L836.4,186.1 L836.9,186.1 L837.4,186.1 L837.9,186.2 L838.4,186.2 L838.9,186.2 L839.4,186.2 L839.9,186.3 L840.4,186.3 L840.9,186.3 L841.4,186.3 L841.9,186.4 L842.4,186.4 L842.9,186.4 L843.4,186.4 L887.4,186.4" fill="none" stroke="#9ee010" stroke-width="1.0"/><path d="M257.9,186.4 L283.4,186.4 L283.9,186.4 L284.4,186.3 L284.9,186.3 L285.4,186.2 L285.9,186.1 L286.4,186.1 L286.9,186.0 L287.4,186.0 L287.9,185.9 L288.4,185.9 L288.9,185.8 L289.4,185.8 L289.9,185.8 L290.4,185.8 L290.9,185.8 L291.4,185.8 L291.9,185.9 L292.4,185.9 L292.9,186.0 L293.4,186.0 L293.9,186.1 L294.4,186.2 L294.9,186.2 L295.4,186.3 L295.9,186.3 L296.4,186.4 L296.9,186.4 L306.4,186.4 L306.9,186.4 L307.4,186.3 L307.9,186.2 L308.4,186.2 L308.9,186.1 L309.4,186.0 L309.9,185.9 L310.4,185.8 L310.9,185.7 L311.4,185.7 L311.9,185.6 L312.4,185.6 L312.9,185.5 L313.4,185.5 L313.9,185.5 L314.4,185.5 L314.9,185.5 L315.4,185.6 L315.9,185.6 L316.4,185.7 L316.9,185.7 L317.4,185.8 L317.9,185.9 L318.4,186.0 L318.9,186.0 L319.4,186.1 L319.9,186.2 L320.4,186.3 L320.9,186.3 L321.4,186.4 L321.9,186.4 L325.9,186.4 L326.4,186.1 L326.9,185.4 L327.4,184.5 L327.9,183.5 L328.4,182.3 L328.9,181.0 L329.4,179.9 L329.9,178.7 L330.4,177.7 L330.9,176.9 L331.4,176.3 L331.9,175.8 L332.4,175.6 L332.9,175.6 L333.4,175.9 L333.9,176.4 L334.4,177.1 L334.9,177.9 L335.4,179.0 L335.9,180.1 L336.4,181.3 L336.9,182.5 L337.4,183.7 L337.9,184.7 L338.4,185.6 L338.9,186.2 L339.4,186.4 L423.4,186.4 L423.9,186.3 L424.4,186.1 L424.9,185.9 L425.4,185.6 L425.9,185.3 L426.4,185.0 L426.9,184.8 L427.4,184.5 L427.9,184.3 L428.4,184.2 L428.9,184.1 L429.4,184.1 L429.9,184.1 L430.4,184.3 L430.9,184.4 L431.4,184.6 L431.9,184.9 L432.4,185.2 L432.9,185.5 L433.4,185.7 L433.9,186.0 L434.4,186.2 L434.9,186.4 L435.4,186.4 L495.4,186.4 L495.9,186.4 L496.4,186.4 L496.9,186.4 L497.4,186.3 L497.9,186.3 L498.4,186.3 L498.9,186.2 L499.4,186.2 L499.9,186.2 L500.4,186.2 L500.9,186.1 L501.4,186.1 L501.9,186.1 L502.4,186.1 L502.9,186.0 L503.4,186.0 L503.9,186.0 L504.4,186.0 L504.9,186.0 L505.4,186.0 L505.9,186.0 L506.4,186.0 L506.9,186.0 L507.4,186.0 L507.9,186.1 L508.4,186.1 L508.9,186.1 L509.4,186.1 L509.9,186.2 L510.4,186.2 L510.9,186.2 L511.4,186.3 L511.9,186.3 L512.4,186.3 L512.9,186.3 L513.4,186.4 L513.9,186.4 L514.4,186.4 L515.4,186.4 L515.9,186.4 L516.4,186.3 L516.9,186.2 L517.4,186.2 L517.9,186.1 L518.4,186.0 L518.9,185.9 L519.4,185.9 L519.9,185.8 L520.4,185.8 L520.9,185.7 L521.4,185.7 L521.9,185.7 L522.4,185.7 L522.9,185.7 L523.4,185.8 L523.9,185.8 L524.4,185.9 L524.9,185.9 L525.4,186.0 L525.9,186.1 L526.4,186.1 L526.9,186.2 L527.4,186.1 L527.9,186.1 L528.4,186.1 L528.9,186.0 L529.4,185.9 L529.9,185.8 L530.4,185.7 L530.9,185.7 L531.4,185.6 L531.9,185.6 L532.4,185.6 L532.9,185.6 L533.4,185.7 L533.9,185.8 L534.4,185.8 L534.9,185.9 L535.4,186.0 L535.9,186.1 L536.4,186.0 L536.9,185.9 L537.4,185.7 L537.9,185.4 L538.4,185.2 L538.9,184.9 L539.4,184.8 L539.9,184.7 L540.4,184.6 L540.9,184.6 L541.4,184.7 L541.9,184.6 L542.4,184.5 L542.9,184.0 L543.4,183.1 L543.9,181.9 L544.4,180.5 L544.9,179.0 L545.4,177.4 L545.9,175.9 L546.4,174.6 L546.9,173.5 L547.4,172.6 L547.9,172.1 L548.4,171.8 L548.9,171.8 L549.4,172.0 L549.9,172.3 L550.4,172.7 L550.9,173.4 L551.4,174.4 L551.9,175.5 L552.4,176.8 L552.9,178.2 L553.4,179.7 L553.9,181.2 L554.4,182.7 L554.9,184.0 L555.4,185.1 L555.9,185.9 L556.4,186.4 L556.9,186.4 L557.9,186.4 L558.4,186.3 L558.9,186.0 L559.4,185.7 L559.9,185.3 L560.4,184.8 L560.9,184.4 L561.4,184.1 L561.9,183.8 L562.4,183.7 L562.9,183.6 L563.4,183.7 L563.9,183.8 L564.4,184.1 L564.9,184.4 L565.4,184.8 L565.9,185.3 L566.4,185.7 L566.9,186.0 L567.4,186.3 L567.9,186.4 L568.9,186.4 L569.4,186.3 L569.9,184.1 L570.4,179.2 L570.9,172.5 L571.4,164.6 L571.9,156.1 L572.4,147.6 L572.9,139.5 L573.4,132.3 L573.9,126.3 L574.4,121.7 L574.9,118.7 L575.4,117.4 L575.9,117.9 L576.4,120.0 L576.9,123.7 L577.4,128.7 L577.9,134.9 L578.4,142.1 L578.9,150.0 L579.4,158.1 L579.9,166.1 L580.4,173.5 L580.9,179.8 L581.4,184.3 L581.9,186.3 L582.4,185.4 L582.9,182.9 L583.4,179.1 L583.9,174.5 L584.4,169.5 L584.9,164.4 L585.4,159.4 L585.9,154.9 L586.4,150.9 L586.9,147.7 L587.4,145.4 L587.9,144.0 L588.4,143.7 L588.9,144.3 L589.4,145.7 L589.9,147.8 L590.4,150.7 L590.9,154.1 L591.4,158.1 L591.9,162.4 L592.4,166.9 L592.9,171.4 L593.4,175.8 L593.9,179.7 L594.4,183.0 L594.9,185.3 L595.4,186.4 L595.9,186.4 L596.4,186.4 L596.9,185.8 L597.4,184.5 L597.9,182.7 L598.4,180.3 L598.9,177.5 L599.4,174.4 L599.9,171.1 L600.4,167.6 L600.9,164.1 L601.4,160.6 L601.9,157.1 L602.4,153.8 L602.9,150.7 L603.4,147.8 L603.9,145.1 L604.4,142.8 L604.9,140.8 L605.4,139.2 L605.9,138.0 L606.4,137.2 L606.9,136.8 L607.4,137.0 L607.9,138.0 L608.4,140.0 L608.9,142.8 L609.4,146.4 L609.9,150.7 L610.4,155.4 L610.9,160.5 L611.4,165.7 L611.9,170.8 L612.4,175.5 L612.9,179.6 L613.4,182.9 L613.9,184.9 L614.4,185.4 L614.9,185.3 L615.4,185.2 L615.9,185.2 L616.4,185.2 L616.9,185.2 L617.4,185.3 L617.9,185.4 L618.4,185.5 L618.9,185.6 L619.4,185.7 L619.9,185.8 L620.4,186.0 L620.9,186.1 L621.4,186.2 L621.9,186.3 L622.4,186.4 L622.9,186.4 L683.9,186.4 L684.4,186.4 L684.9,186.3 L685.4,186.2 L685.9,186.1 L686.4,186.0 L686.9,185.9 L687.4,185.8 L687.9,185.7 L688.4,185.6 L688.9,185.6 L689.4,185.5 L689.9,185.5 L690.4,185.5 L690.9,185.5 L691.4,185.6 L691.9,185.7 L692.4,185.8 L692.9,185.9 L693.4,186.0 L693.9,186.1 L694.4,186.2 L694.9,186.3 L695.4,186.4 L695.9,186.4 L702.9,186.4 L703.4,186.4 L703.9,186.3 L704.4,186.2 L704.9,186.0 L705.4,185.9 L705.9,185.7 L706.4,185.5 L706.9,185.4 L707.4,185.3 L707.9,185.2 L708.4,185.1 L708.9,185.1 L709.4,185.1 L709.9,185.2 L710.4,185.2 L710.9,185.3 L711.4,185.5 L711.9,185.6 L712.4,185.8 L712.9,186.0 L713.4,186.1 L713.9,186.3 L714.4,186.4 L714.9,186.4 L721.9,186.4 L722.4,185.9 L722.9,184.3 L723.4,181.7 L723.9,178.4 L724.4,174.8 L724.9,171.0 L725.4,167.3 L725.9,163.8 L726.4,160.7 L726.9,158.2 L727.4,156.2 L727.9,154.9 L728.4,154.4 L728.9,154.6 L729.4,155.6 L729.9,157.3 L730.4,159.6 L730.9,162.5 L731.4,165.9 L731.9,169.5 L732.4,173.3 L732.9,177.0 L733.4,180.4 L733.9,183.3 L734.4,185.4 L734.9,186.4 L735.4,186.4 L736.4,186.4 L736.9,186.4 L737.4,186.2 L737.9,185.9 L738.4,185.6 L738.9,185.3 L739.4,185.0 L739.9,184.6 L740.4,184.4 L740.9,184.2 L741.4,184.1 L741.9,184.0 L742.4,184.0 L742.9,184.1 L743.4,184.3 L743.9,184.5 L744.4,184.8 L744.9,185.1 L745.4,185.5 L745.9,185.8 L746.4,186.1 L746.9,186.3 L747.4,186.4 L748.4,186.4 L748.9,186.4 L749.4,186.2 L749.9,186.0 L750.4,185.7 L750.9,185.3 L751.4,184.9 L751.9,184.6 L752.4,184.2 L752.9,184.0 L753.4,183.8 L753.9,183.7 L754.4,183.7 L754.9,183.8 L755.4,184.0 L755.9,184.2 L756.4,184.5 L756.9,184.8 L757.4,185.2 L757.9,185.6 L758.4,185.9 L758.9,186.2 L759.4,186.4 L759.9,186.4 L786.4,186.4 L786.9,186.4 L787.4,186.3 L787.9,186.1 L788.4,185.9 L788.9,185.7 L789.4,185.5 L789.9,185.3 L790.4,185.1 L790.9,184.9 L791.4,184.7 L791.9,184.6 L792.4,184.5 L792.9,184.5 L793.4,184.5 L793.9,184.6 L794.4,184.7 L794.9,184.8 L795.4,185.0 L795.9,185.2 L796.4,185.4 L796.9,185.6 L797.4,185.8 L797.9,186.0 L798.4,186.2 L798.9,186.3 L799.4,186.4 L826.4,186.4 L826.9,186.4 L827.4,186.4 L827.9,186.4 L828.4,186.3 L828.9,186.3 L829.4,186.3 L829.9,186.3 L830.4,186.2 L830.9,186.2 L831.4,186.2 L831.9,186.2 L832.4,186.1 L832.9,186.1 L833.4,186.1 L833.9,186.1 L834.4,186.1 L834.9,186.1 L835.4,186.1 L835.9,186.1 L836.4,186.1 L836.9,186.1 L837.4,186.1 L837.9,186.2 L838.4,186.2 L838.9,186.2 L839.4,186.2 L839.9,186.3 L840.4,186.3 L840.9,186.3 L841.4,186.3 L841.9,186.3 L842.4,186.4 L842.9,186.4 L843.4,186.4 L887.4,186.4" fill="none" stroke="#0a3c88" stroke-width="1.9" stroke-linejoin="round"/><text id="a1" transform="translate(192.00,124.75) scale(1,1.08)" font-size="17.0" fill="#7030a0" textLength="133.96" lengthAdjust="spacing">Phenylacetic acid</text><text id="a2" transform="translate(233.60,148.4) scale(1,1.08)" font-size="17.0" fill="#7030a0" textLength="57.22" lengthAdjust="spacing">Ethanol</text><text id="a3" transform="translate(360.40,149.1) scale(1,1.08)" font-size="17.0" fill="#7030a0" textLength="109.28" lengthAdjust="spacing">Propionic acid</text><text id="a4" transform="translate(418.60,128.5) scale(1,1.08)" font-size="17.0" fill="#7030a0" textLength="90.78" lengthAdjust="spacing">Butyric acid</text><text id="a5" transform="translate(453.20,109.5) scale(1,1.08)" font-size="17.0" fill="#7030a0" textLength="82.70" lengthAdjust="spacing">Acetic acid</text><text id="a6" transform="translate(470.00,88.5) scale(1,1.08)" font-size="17.0" fill="#ff0000" textLength="112.83" lengthAdjust="spacing"><tspan font-size="10.5" dy="-4.8">13</tspan><tspan dy="4.8">C-Acetic acid</tspan></text><text id="a7" transform="translate(626.20,127.7) scale(1,1.08)" font-size="17.0" fill="#7030a0" textLength="58.57" lengthAdjust="spacing">Ethanol</text><text id="a8" transform="translate(747.80,89.1) scale(1,1.08)" font-size="17.0" fill="#7030a0" textLength="108.88" lengthAdjust="spacing">Propionic acid</text><text id="a9" transform="translate(781.00,113.1) scale(1,1.08)" font-size="17.0" fill="#ff0000" textLength="138.42" lengthAdjust="spacing"><tspan font-size="10.5" dy="-4.8">13</tspan><tspan dy="4.8">C-Propionic acid</tspan></text><text id="a10" transform="translate(824.40,136.7) scale(1,1.08)" font-size="17.0" fill="#7030a0" textLength="89.68" lengthAdjust="spacing">Butyric acid</text><text id="h1" transform="translate(453.80,326.6) scale(1,1.08)" font-size="17.0" fill="#ff0000" textLength="113.33" lengthAdjust="spacing"><tspan font-size="10.5" dy="-4.8">13</tspan><tspan dy="4.8">C-Acetic acid</tspan></text><text id="h2" transform="translate(745.60,325.5) scale(1,1.08)" font-size="17.0" fill="#ff0000" textLength="138.12" lengthAdjust="spacing"><tspan font-size="10.5" dy="-4.8">13</tspan><tspan dy="4.8">C-Propionic acid</tspan></text><text id="h3" transform="translate(345.80,377.6) scale(1,1.08)" font-size="17.0" fill="#7030a0" textLength="58.37" lengthAdjust="spacing">Ethanol</text><text id="h4" transform="translate(743.00,377.75) scale(1,1.08)" font-size="17.0" fill="#7030a0" textLength="57.92" lengthAdjust="spacing">Ethanol</text><text id="h5" transform="translate(731.20,558.3) scale(1,1.08)" font-size="17.0" fill="#ff0000" textLength="139.72" lengthAdjust="spacing"><tspan font-size="10.5" dy="-4.8">13</tspan><tspan dy="4.8">C-Propionic acid</tspan></text><text id="h6" transform="translate(752.40,586) scale(1,1.08)" font-size="17.0" fill="#7030a0" textLength="109.08" lengthAdjust="spacing">Propionic acid</text><path d="M192.75,128.1 H332.8 V172.5" fill="none" stroke="#3c3c3c" stroke-width="1.3"/><path d="M231.6,153.1 H314.4 V182.5" fill="none" stroke="#3c3c3c" stroke-width="1.3"/><path d="M360,153.8 H547.6 V168" fill="none" stroke="#3c3c3c" stroke-width="1.3"/><path d="M419.1,132.7 H549.6 V168" fill="none" stroke="#3c3c3c" stroke-width="1.3"/><path d="M451,113 H573.6 M577.9,113 H589.4 V139" fill="none" stroke="#3c3c3c" stroke-width="1.3"/><path d="M470.5,92.4 H607 V132.7 M575.7,92.4 V115.5" fill="none" stroke="#ff0000" stroke-width="1.2"/><path d="M626.6,133.1 H709.5 V182.4" fill="none" stroke="#3c3c3c" stroke-width="1.3"/><path d="M863,92.1 H729.5 V144.5" fill="none" stroke="#3c3c3c" stroke-width="1.3"/><path d="M922,116.3 H731.3 M727.1,116.3 H714.9 V182.4 M742.3,116.3 V181" fill="none" stroke="#ff0000" stroke-width="1.2"/><path d="M922,141.1 H745.1 M739.9,141.1 H731.3 M727.1,141.1 H717.2 M712.4,141.1 H711.2 M706.9,141.1 H646.7 V182.4 M754.4,141.1 V182.8" fill="none" stroke="#3c3c3c" stroke-width="1.3"/><path d="M453.7,330.4 H603.8 V299.7 M575.35,330.4 V299.7" fill="none" stroke="#ff0000" stroke-width="1.2"/><path d="M891,330.1 H714.75 V299.7 M740.75,330.1 V299.7" fill="none" stroke="#ff0000" stroke-width="1.2"/><path d="M312.3,314 V337 M312.3,356 V382.8 H411.9" fill="none" stroke="#3c3c3c" stroke-width="1.3"/><path d="M709.5,313 V382.8 H808.75" fill="none" stroke="#3c3c3c" stroke-width="1.3"/><path d="M715,632.5 V561.25 H884.2" fill="none" stroke="#ff0000" stroke-width="1.2"/><path d="M734.4,632.5 V589 H868.4" fill="none" stroke="#3c3c3c" stroke-width="1.3"/><text id="t1" transform="translate(431.80,27.9) scale(1,1.03)" font-size="29" fill="#000" textLength="255.01" lengthAdjust="spacing">Product metabolites</text><text id="t2" transform="translate(248.60,62.8) scale(1,1.04)" font-size="29" fill="#000" textLength="621.88" lengthAdjust="spacing">(<tspan font-size="18.5" dy="-8.3">13</tspan><tspan dy="8.3">C/</tspan><tspan font-size="18.5" dy="-8.3">12</tspan><tspan dy="8.3">C chemical groups from </tspan><tspan font-size="18.5" dy="-8.3">1</tspan><tspan dy="8.3">H-NMR spectra)</tspan></text><text id="ax" x="141.40" y="194" font-size="24" fill="#000" textLength="96.22" lengthAdjust="spacing"><tspan font-size="15" dy="-8.6">1</tspan><tspan dy="8.6">H (ppm)</tspan></text><text x="258.75" y="209.6" text-anchor="middle" font-size="24" fill="#000">4</text><text x="416.2" y="209.6" text-anchor="middle" font-size="24" fill="#000">3</text><text x="575.8" y="209.6" text-anchor="middle" font-size="24" fill="#000">2</text><text x="735.0" y="209.6" text-anchor="middle" font-size="24" fill="#000">1</text><text x="893" y="209.6" text-anchor="middle" font-size="24" fill="#000">0</text><text id="y1" transform="translate(28,665.40) rotate(-90)" font-size="29" fill="#000" textLength="240.26" lengthAdjust="spacing">Catalysis producer</text><text id="y2" transform="translate(64.7,806.00) rotate(-90)" font-size="29.2" fill="#000" textLength="523.73" lengthAdjust="spacing">(Bacterial class from metagenomic data)</text><defs><linearGradient id="gr" x1="0" y1="0" x2="0" y2="1"><stop offset="0" stop-color="#ff0000"/><stop offset="1" stop-color="#ff2020"/></linearGradient><linearGradient id="gb" x1="0" y1="0" x2="0" y2="1"><stop offset="0" stop-color="#2080c8"/><stop offset="1" stop-color="#0a6cb8"/></linearGradient></defs><rect x="907.1" y="343.8" width="32.5" height="28.3" fill="url(#gr)"/><rect x="907.1" y="683.4" width="32.5" height="31" fill="url(#gb)"/><rect x="907.1" y="343.8" width="32.5" height="370.6" fill="none" stroke="#000" stroke-width="2.7"/><text id="c1" transform="translate(949.20,345.5) scale(1,1.05)" font-size="24.5" fill="#000" textLength="48.09" lengthAdjust="spacing">1.00</text><text id="c2" transform="translate(949.00,381.9) scale(1,1.05)" font-size="24.5" fill="#000" textLength="48.09" lengthAdjust="spacing">0.85</text><text id="c3" transform="translate(949.00,538.2) scale(1,1.05)" font-size="24.5" fill="#000" textLength="48.09" lengthAdjust="spacing">0.00</text><text id="c4" transform="translate(948.20,689.6) scale(1,1.05)" font-size="24.5" fill="#000" textLength="56.54" lengthAdjust="spacing">-0.85</text><text id="c5" transform="translate(948.20,724.9) scale(1,1.05)" font-size="24.5" fill="#000" textLength="56.54" lengthAdjust="spacing">-1.00</text><text id="c6" transform="translate(895.00,763.6) scale(1,1.04)" font-size="25" fill="#000" textLength="122.18" lengthAdjust="spacing">Correlation</text><text id="c7" transform="translate(924.00,792.6) scale(1,1.04)" font-size="25" fill="#000" textLength="62.13" lengthAdjust="spacing">factor</text></svg>
</body></html>
